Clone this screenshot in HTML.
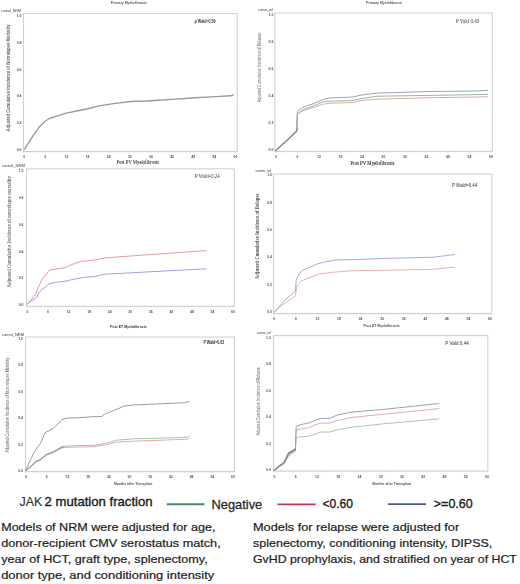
<!DOCTYPE html>
<html><head><meta charset="utf-8"><style>
html,body{margin:0;padding:0;background:#fff;}
body{width:520px;height:584px;overflow:hidden;}
svg{display:block;}
</style></head><body>
<svg width="520" height="584" viewBox="0 0 520 584">
<defs><filter id="bl" x="0" y="0" width="520" height="584" filterUnits="userSpaceOnUse"><feGaussianBlur stdDeviation="0.35"/></filter></defs>
<rect width="520" height="584" fill="#fff"/>
<g filter="url(#bl)">
<rect x="23.5" y="13.5" width="213.8" height="138.0" fill="none" stroke="#d2d2d2" stroke-width="1.1"/>
<line x1="24.2" y1="151.5" x2="24.2" y2="152.9" stroke="#b8b8b8" stroke-width="0.5"/>
<line x1="27.72" y1="151.5" x2="27.72" y2="152.6" stroke="#b8b8b8" stroke-width="0.5"/>
<line x1="31.24" y1="151.5" x2="31.24" y2="152.6" stroke="#b8b8b8" stroke-width="0.5"/>
<line x1="34.77" y1="151.5" x2="34.77" y2="152.6" stroke="#b8b8b8" stroke-width="0.5"/>
<line x1="38.29" y1="151.5" x2="38.29" y2="152.6" stroke="#b8b8b8" stroke-width="0.5"/>
<line x1="41.81" y1="151.5" x2="41.81" y2="152.6" stroke="#b8b8b8" stroke-width="0.5"/>
<line x1="45.33" y1="151.5" x2="45.33" y2="152.9" stroke="#b8b8b8" stroke-width="0.5"/>
<line x1="48.85" y1="151.5" x2="48.85" y2="152.6" stroke="#b8b8b8" stroke-width="0.5"/>
<line x1="52.37" y1="151.5" x2="52.37" y2="152.6" stroke="#b8b8b8" stroke-width="0.5"/>
<line x1="55.89" y1="151.5" x2="55.89" y2="152.6" stroke="#b8b8b8" stroke-width="0.5"/>
<line x1="59.42" y1="151.5" x2="59.42" y2="152.6" stroke="#b8b8b8" stroke-width="0.5"/>
<line x1="62.94" y1="151.5" x2="62.94" y2="152.6" stroke="#b8b8b8" stroke-width="0.5"/>
<line x1="66.46" y1="151.5" x2="66.46" y2="152.9" stroke="#b8b8b8" stroke-width="0.5"/>
<line x1="69.98" y1="151.5" x2="69.98" y2="152.6" stroke="#b8b8b8" stroke-width="0.5"/>
<line x1="73.5" y1="151.5" x2="73.5" y2="152.6" stroke="#b8b8b8" stroke-width="0.5"/>
<line x1="77.03" y1="151.5" x2="77.03" y2="152.6" stroke="#b8b8b8" stroke-width="0.5"/>
<line x1="80.55" y1="151.5" x2="80.55" y2="152.6" stroke="#b8b8b8" stroke-width="0.5"/>
<line x1="84.07" y1="151.5" x2="84.07" y2="152.6" stroke="#b8b8b8" stroke-width="0.5"/>
<line x1="87.59" y1="151.5" x2="87.59" y2="152.9" stroke="#b8b8b8" stroke-width="0.5"/>
<line x1="91.11" y1="151.5" x2="91.11" y2="152.6" stroke="#b8b8b8" stroke-width="0.5"/>
<line x1="94.63" y1="151.5" x2="94.63" y2="152.6" stroke="#b8b8b8" stroke-width="0.5"/>
<line x1="98.16" y1="151.5" x2="98.16" y2="152.6" stroke="#b8b8b8" stroke-width="0.5"/>
<line x1="101.68" y1="151.5" x2="101.68" y2="152.6" stroke="#b8b8b8" stroke-width="0.5"/>
<line x1="105.2" y1="151.5" x2="105.2" y2="152.6" stroke="#b8b8b8" stroke-width="0.5"/>
<line x1="108.72" y1="151.5" x2="108.72" y2="152.9" stroke="#b8b8b8" stroke-width="0.5"/>
<line x1="112.24" y1="151.5" x2="112.24" y2="152.6" stroke="#b8b8b8" stroke-width="0.5"/>
<line x1="115.76" y1="151.5" x2="115.76" y2="152.6" stroke="#b8b8b8" stroke-width="0.5"/>
<line x1="119.29" y1="151.5" x2="119.29" y2="152.6" stroke="#b8b8b8" stroke-width="0.5"/>
<line x1="122.81" y1="151.5" x2="122.81" y2="152.6" stroke="#b8b8b8" stroke-width="0.5"/>
<line x1="126.33" y1="151.5" x2="126.33" y2="152.6" stroke="#b8b8b8" stroke-width="0.5"/>
<line x1="129.85" y1="151.5" x2="129.85" y2="152.9" stroke="#b8b8b8" stroke-width="0.5"/>
<line x1="133.37" y1="151.5" x2="133.37" y2="152.6" stroke="#b8b8b8" stroke-width="0.5"/>
<line x1="136.89" y1="151.5" x2="136.89" y2="152.6" stroke="#b8b8b8" stroke-width="0.5"/>
<line x1="140.41" y1="151.5" x2="140.41" y2="152.6" stroke="#b8b8b8" stroke-width="0.5"/>
<line x1="143.94" y1="151.5" x2="143.94" y2="152.6" stroke="#b8b8b8" stroke-width="0.5"/>
<line x1="147.46" y1="151.5" x2="147.46" y2="152.6" stroke="#b8b8b8" stroke-width="0.5"/>
<line x1="150.98" y1="151.5" x2="150.98" y2="152.9" stroke="#b8b8b8" stroke-width="0.5"/>
<line x1="154.5" y1="151.5" x2="154.5" y2="152.6" stroke="#b8b8b8" stroke-width="0.5"/>
<line x1="158.02" y1="151.5" x2="158.02" y2="152.6" stroke="#b8b8b8" stroke-width="0.5"/>
<line x1="161.54" y1="151.5" x2="161.54" y2="152.6" stroke="#b8b8b8" stroke-width="0.5"/>
<line x1="165.07" y1="151.5" x2="165.07" y2="152.6" stroke="#b8b8b8" stroke-width="0.5"/>
<line x1="168.59" y1="151.5" x2="168.59" y2="152.6" stroke="#b8b8b8" stroke-width="0.5"/>
<line x1="172.11" y1="151.5" x2="172.11" y2="152.9" stroke="#b8b8b8" stroke-width="0.5"/>
<line x1="175.63" y1="151.5" x2="175.63" y2="152.6" stroke="#b8b8b8" stroke-width="0.5"/>
<line x1="179.15" y1="151.5" x2="179.15" y2="152.6" stroke="#b8b8b8" stroke-width="0.5"/>
<line x1="182.67" y1="151.5" x2="182.67" y2="152.6" stroke="#b8b8b8" stroke-width="0.5"/>
<line x1="186.2" y1="151.5" x2="186.2" y2="152.6" stroke="#b8b8b8" stroke-width="0.5"/>
<line x1="189.72" y1="151.5" x2="189.72" y2="152.6" stroke="#b8b8b8" stroke-width="0.5"/>
<line x1="193.24" y1="151.5" x2="193.24" y2="152.9" stroke="#b8b8b8" stroke-width="0.5"/>
<line x1="196.76" y1="151.5" x2="196.76" y2="152.6" stroke="#b8b8b8" stroke-width="0.5"/>
<line x1="200.28" y1="151.5" x2="200.28" y2="152.6" stroke="#b8b8b8" stroke-width="0.5"/>
<line x1="203.81" y1="151.5" x2="203.81" y2="152.6" stroke="#b8b8b8" stroke-width="0.5"/>
<line x1="207.33" y1="151.5" x2="207.33" y2="152.6" stroke="#b8b8b8" stroke-width="0.5"/>
<line x1="210.85" y1="151.5" x2="210.85" y2="152.6" stroke="#b8b8b8" stroke-width="0.5"/>
<line x1="214.37" y1="151.5" x2="214.37" y2="152.9" stroke="#b8b8b8" stroke-width="0.5"/>
<line x1="217.89" y1="151.5" x2="217.89" y2="152.6" stroke="#b8b8b8" stroke-width="0.5"/>
<line x1="221.41" y1="151.5" x2="221.41" y2="152.6" stroke="#b8b8b8" stroke-width="0.5"/>
<line x1="224.94" y1="151.5" x2="224.94" y2="152.6" stroke="#b8b8b8" stroke-width="0.5"/>
<line x1="228.46" y1="151.5" x2="228.46" y2="152.6" stroke="#b8b8b8" stroke-width="0.5"/>
<line x1="231.98" y1="151.5" x2="231.98" y2="152.6" stroke="#b8b8b8" stroke-width="0.5"/>
<line x1="235.5" y1="151.5" x2="235.5" y2="152.9" stroke="#b8b8b8" stroke-width="0.5"/>
<text x="23.25" y="158.2" font-size="4.0" font-family='"Liberation Sans", sans-serif' fill="#555" text-anchor="start" font-weight="bold" textLength="1.9" lengthAdjust="spacingAndGlyphs" >0</text>
<text x="44.38" y="158.2" font-size="4.0" font-family='"Liberation Sans", sans-serif' fill="#555" text-anchor="start" font-weight="bold" textLength="1.9" lengthAdjust="spacingAndGlyphs" >6</text>
<text x="64.56" y="158.2" font-size="4.0" font-family='"Liberation Sans", sans-serif' fill="#555" text-anchor="start" font-weight="bold" textLength="3.8" lengthAdjust="spacingAndGlyphs" >12</text>
<text x="85.69" y="158.2" font-size="4.0" font-family='"Liberation Sans", sans-serif' fill="#555" text-anchor="start" font-weight="bold" textLength="3.8" lengthAdjust="spacingAndGlyphs" >18</text>
<text x="106.82" y="158.2" font-size="4.0" font-family='"Liberation Sans", sans-serif' fill="#555" text-anchor="start" font-weight="bold" textLength="3.8" lengthAdjust="spacingAndGlyphs" >24</text>
<text x="127.95" y="158.2" font-size="4.0" font-family='"Liberation Sans", sans-serif' fill="#555" text-anchor="start" font-weight="bold" textLength="3.8" lengthAdjust="spacingAndGlyphs" >30</text>
<text x="149.08" y="158.2" font-size="4.0" font-family='"Liberation Sans", sans-serif' fill="#555" text-anchor="start" font-weight="bold" textLength="3.8" lengthAdjust="spacingAndGlyphs" >36</text>
<text x="170.21" y="158.2" font-size="4.0" font-family='"Liberation Sans", sans-serif' fill="#555" text-anchor="start" font-weight="bold" textLength="3.8" lengthAdjust="spacingAndGlyphs" >42</text>
<text x="191.34" y="158.2" font-size="4.0" font-family='"Liberation Sans", sans-serif' fill="#555" text-anchor="start" font-weight="bold" textLength="3.8" lengthAdjust="spacingAndGlyphs" >48</text>
<text x="212.47" y="158.2" font-size="4.0" font-family='"Liberation Sans", sans-serif' fill="#555" text-anchor="start" font-weight="bold" textLength="3.8" lengthAdjust="spacingAndGlyphs" >54</text>
<text x="233.6" y="158.2" font-size="4.0" font-family='"Liberation Sans", sans-serif' fill="#555" text-anchor="start" font-weight="bold" textLength="3.8" lengthAdjust="spacingAndGlyphs" >60</text>
<line x1="22.5" y1="149.5" x2="23.5" y2="149.5" stroke="#d0d0d0" stroke-width="0.5"/>
<line x1="22.5" y1="142.76" x2="23.5" y2="142.76" stroke="#d0d0d0" stroke-width="0.5"/>
<line x1="22.5" y1="136.03" x2="23.5" y2="136.03" stroke="#d0d0d0" stroke-width="0.5"/>
<line x1="22.5" y1="129.3" x2="23.5" y2="129.3" stroke="#d0d0d0" stroke-width="0.5"/>
<line x1="22.5" y1="122.56" x2="23.5" y2="122.56" stroke="#d0d0d0" stroke-width="0.5"/>
<line x1="22.5" y1="115.83" x2="23.5" y2="115.83" stroke="#d0d0d0" stroke-width="0.5"/>
<line x1="22.5" y1="109.09" x2="23.5" y2="109.09" stroke="#d0d0d0" stroke-width="0.5"/>
<line x1="22.5" y1="102.36" x2="23.5" y2="102.36" stroke="#d0d0d0" stroke-width="0.5"/>
<line x1="22.5" y1="95.62" x2="23.5" y2="95.62" stroke="#d0d0d0" stroke-width="0.5"/>
<line x1="22.5" y1="88.89" x2="23.5" y2="88.89" stroke="#d0d0d0" stroke-width="0.5"/>
<line x1="22.5" y1="82.15" x2="23.5" y2="82.15" stroke="#d0d0d0" stroke-width="0.5"/>
<line x1="22.5" y1="75.42" x2="23.5" y2="75.42" stroke="#d0d0d0" stroke-width="0.5"/>
<line x1="22.5" y1="68.68" x2="23.5" y2="68.68" stroke="#d0d0d0" stroke-width="0.5"/>
<line x1="22.5" y1="61.95" x2="23.5" y2="61.95" stroke="#d0d0d0" stroke-width="0.5"/>
<line x1="22.5" y1="55.21" x2="23.5" y2="55.21" stroke="#d0d0d0" stroke-width="0.5"/>
<line x1="22.5" y1="48.48" x2="23.5" y2="48.48" stroke="#d0d0d0" stroke-width="0.5"/>
<line x1="22.5" y1="41.74" x2="23.5" y2="41.74" stroke="#d0d0d0" stroke-width="0.5"/>
<line x1="22.5" y1="35.01" x2="23.5" y2="35.01" stroke="#d0d0d0" stroke-width="0.5"/>
<line x1="22.5" y1="28.27" x2="23.5" y2="28.27" stroke="#d0d0d0" stroke-width="0.5"/>
<line x1="22.5" y1="21.54" x2="23.5" y2="21.54" stroke="#d0d0d0" stroke-width="0.5"/>
<line x1="22.5" y1="14.8" x2="23.5" y2="14.8" stroke="#d0d0d0" stroke-width="0.5"/>
<text x="16.7" y="151.3" font-size="4.2" font-family='"Liberation Sans", sans-serif' fill="#555" text-anchor="start" font-weight="bold" textLength="4.8" lengthAdjust="spacingAndGlyphs" >0.0</text>
<text x="16.7" y="124.4" font-size="4.2" font-family='"Liberation Sans", sans-serif' fill="#555" text-anchor="start" font-weight="bold" textLength="4.8" lengthAdjust="spacingAndGlyphs" >0.2</text>
<text x="16.7" y="97.4" font-size="4.2" font-family='"Liberation Sans", sans-serif' fill="#555" text-anchor="start" font-weight="bold" textLength="4.8" lengthAdjust="spacingAndGlyphs" >0.4</text>
<text x="16.7" y="70.5" font-size="4.2" font-family='"Liberation Sans", sans-serif' fill="#555" text-anchor="start" font-weight="bold" textLength="4.8" lengthAdjust="spacingAndGlyphs" >0.6</text>
<text x="16.7" y="43.5" font-size="4.2" font-family='"Liberation Sans", sans-serif' fill="#555" text-anchor="start" font-weight="bold" textLength="4.8" lengthAdjust="spacingAndGlyphs" >0.8</text>
<text x="16.7" y="16.6" font-size="4.2" font-family='"Liberation Sans", sans-serif' fill="#555" text-anchor="start" font-weight="bold" textLength="4.8" lengthAdjust="spacingAndGlyphs" >1.0</text>
<text x="1" y="11.8" font-size="4.0" font-family='"Liberation Sans", sans-serif' fill="#333" text-anchor="start" font-weight="normal" textLength="20" lengthAdjust="spacingAndGlyphs" >cumul_NRM</text>
<text x="0" y="0" transform="translate(9.5,77.95) rotate(-90)" font-size="5.2" font-family='"Liberation Sans", sans-serif' fill="#666" font-weight="bold" text-anchor="middle" textLength="106.9" lengthAdjust="spacingAndGlyphs">Adjusted Cumulative Incidence of Nonrelapse Mortality</text>
<text x="194.6" y="22.5" font-size="5.2" font-family='"Liberation Sans", sans-serif' fill="#333" text-anchor="start" font-weight="bold" textLength="21.0" lengthAdjust="spacingAndGlyphs" >p Wald=0.59</text>
<polyline points="24.6,149.2 29.0,142.0 33.8,134.6 40.0,126.2 44.5,121.8 49.2,118.5 56.9,116.2 66.2,113.1 75.4,111.2 87.7,108.8 100.0,105.6 115.4,103.4 130.8,101.5 146.2,101.0 158.5,100.3 172.3,99.4 194.6,97.7 216.2,96.6 230.0,95.8 232.5,95.6 233.0,94.6" fill="none" stroke="#9a9a9a" stroke-width="1.4" stroke-opacity="1.0" stroke-linejoin="round" stroke-linecap="round"/>
<rect x="274.9" y="13.0" width="217.40000000000003" height="138.4" fill="none" stroke="#d2d2d2" stroke-width="1.1"/>
<line x1="276.0" y1="151.4" x2="276.0" y2="152.8" stroke="#b8b8b8" stroke-width="0.5"/>
<line x1="279.58" y1="151.4" x2="279.58" y2="152.5" stroke="#b8b8b8" stroke-width="0.5"/>
<line x1="283.17" y1="151.4" x2="283.17" y2="152.5" stroke="#b8b8b8" stroke-width="0.5"/>
<line x1="286.75" y1="151.4" x2="286.75" y2="152.5" stroke="#b8b8b8" stroke-width="0.5"/>
<line x1="290.33" y1="151.4" x2="290.33" y2="152.5" stroke="#b8b8b8" stroke-width="0.5"/>
<line x1="293.92" y1="151.4" x2="293.92" y2="152.5" stroke="#b8b8b8" stroke-width="0.5"/>
<line x1="297.5" y1="151.4" x2="297.5" y2="152.8" stroke="#b8b8b8" stroke-width="0.5"/>
<line x1="301.08" y1="151.4" x2="301.08" y2="152.5" stroke="#b8b8b8" stroke-width="0.5"/>
<line x1="304.67" y1="151.4" x2="304.67" y2="152.5" stroke="#b8b8b8" stroke-width="0.5"/>
<line x1="308.25" y1="151.4" x2="308.25" y2="152.5" stroke="#b8b8b8" stroke-width="0.5"/>
<line x1="311.83" y1="151.4" x2="311.83" y2="152.5" stroke="#b8b8b8" stroke-width="0.5"/>
<line x1="315.42" y1="151.4" x2="315.42" y2="152.5" stroke="#b8b8b8" stroke-width="0.5"/>
<line x1="319.0" y1="151.4" x2="319.0" y2="152.8" stroke="#b8b8b8" stroke-width="0.5"/>
<line x1="322.58" y1="151.4" x2="322.58" y2="152.5" stroke="#b8b8b8" stroke-width="0.5"/>
<line x1="326.17" y1="151.4" x2="326.17" y2="152.5" stroke="#b8b8b8" stroke-width="0.5"/>
<line x1="329.75" y1="151.4" x2="329.75" y2="152.5" stroke="#b8b8b8" stroke-width="0.5"/>
<line x1="333.33" y1="151.4" x2="333.33" y2="152.5" stroke="#b8b8b8" stroke-width="0.5"/>
<line x1="336.92" y1="151.4" x2="336.92" y2="152.5" stroke="#b8b8b8" stroke-width="0.5"/>
<line x1="340.5" y1="151.4" x2="340.5" y2="152.8" stroke="#b8b8b8" stroke-width="0.5"/>
<line x1="344.08" y1="151.4" x2="344.08" y2="152.5" stroke="#b8b8b8" stroke-width="0.5"/>
<line x1="347.67" y1="151.4" x2="347.67" y2="152.5" stroke="#b8b8b8" stroke-width="0.5"/>
<line x1="351.25" y1="151.4" x2="351.25" y2="152.5" stroke="#b8b8b8" stroke-width="0.5"/>
<line x1="354.83" y1="151.4" x2="354.83" y2="152.5" stroke="#b8b8b8" stroke-width="0.5"/>
<line x1="358.42" y1="151.4" x2="358.42" y2="152.5" stroke="#b8b8b8" stroke-width="0.5"/>
<line x1="362.0" y1="151.4" x2="362.0" y2="152.8" stroke="#b8b8b8" stroke-width="0.5"/>
<line x1="365.58" y1="151.4" x2="365.58" y2="152.5" stroke="#b8b8b8" stroke-width="0.5"/>
<line x1="369.17" y1="151.4" x2="369.17" y2="152.5" stroke="#b8b8b8" stroke-width="0.5"/>
<line x1="372.75" y1="151.4" x2="372.75" y2="152.5" stroke="#b8b8b8" stroke-width="0.5"/>
<line x1="376.33" y1="151.4" x2="376.33" y2="152.5" stroke="#b8b8b8" stroke-width="0.5"/>
<line x1="379.92" y1="151.4" x2="379.92" y2="152.5" stroke="#b8b8b8" stroke-width="0.5"/>
<line x1="383.5" y1="151.4" x2="383.5" y2="152.8" stroke="#b8b8b8" stroke-width="0.5"/>
<line x1="387.08" y1="151.4" x2="387.08" y2="152.5" stroke="#b8b8b8" stroke-width="0.5"/>
<line x1="390.67" y1="151.4" x2="390.67" y2="152.5" stroke="#b8b8b8" stroke-width="0.5"/>
<line x1="394.25" y1="151.4" x2="394.25" y2="152.5" stroke="#b8b8b8" stroke-width="0.5"/>
<line x1="397.83" y1="151.4" x2="397.83" y2="152.5" stroke="#b8b8b8" stroke-width="0.5"/>
<line x1="401.42" y1="151.4" x2="401.42" y2="152.5" stroke="#b8b8b8" stroke-width="0.5"/>
<line x1="405.0" y1="151.4" x2="405.0" y2="152.8" stroke="#b8b8b8" stroke-width="0.5"/>
<line x1="408.58" y1="151.4" x2="408.58" y2="152.5" stroke="#b8b8b8" stroke-width="0.5"/>
<line x1="412.17" y1="151.4" x2="412.17" y2="152.5" stroke="#b8b8b8" stroke-width="0.5"/>
<line x1="415.75" y1="151.4" x2="415.75" y2="152.5" stroke="#b8b8b8" stroke-width="0.5"/>
<line x1="419.33" y1="151.4" x2="419.33" y2="152.5" stroke="#b8b8b8" stroke-width="0.5"/>
<line x1="422.92" y1="151.4" x2="422.92" y2="152.5" stroke="#b8b8b8" stroke-width="0.5"/>
<line x1="426.5" y1="151.4" x2="426.5" y2="152.8" stroke="#b8b8b8" stroke-width="0.5"/>
<line x1="430.08" y1="151.4" x2="430.08" y2="152.5" stroke="#b8b8b8" stroke-width="0.5"/>
<line x1="433.67" y1="151.4" x2="433.67" y2="152.5" stroke="#b8b8b8" stroke-width="0.5"/>
<line x1="437.25" y1="151.4" x2="437.25" y2="152.5" stroke="#b8b8b8" stroke-width="0.5"/>
<line x1="440.83" y1="151.4" x2="440.83" y2="152.5" stroke="#b8b8b8" stroke-width="0.5"/>
<line x1="444.42" y1="151.4" x2="444.42" y2="152.5" stroke="#b8b8b8" stroke-width="0.5"/>
<line x1="448.0" y1="151.4" x2="448.0" y2="152.8" stroke="#b8b8b8" stroke-width="0.5"/>
<line x1="451.58" y1="151.4" x2="451.58" y2="152.5" stroke="#b8b8b8" stroke-width="0.5"/>
<line x1="455.17" y1="151.4" x2="455.17" y2="152.5" stroke="#b8b8b8" stroke-width="0.5"/>
<line x1="458.75" y1="151.4" x2="458.75" y2="152.5" stroke="#b8b8b8" stroke-width="0.5"/>
<line x1="462.33" y1="151.4" x2="462.33" y2="152.5" stroke="#b8b8b8" stroke-width="0.5"/>
<line x1="465.92" y1="151.4" x2="465.92" y2="152.5" stroke="#b8b8b8" stroke-width="0.5"/>
<line x1="469.5" y1="151.4" x2="469.5" y2="152.8" stroke="#b8b8b8" stroke-width="0.5"/>
<line x1="473.08" y1="151.4" x2="473.08" y2="152.5" stroke="#b8b8b8" stroke-width="0.5"/>
<line x1="476.67" y1="151.4" x2="476.67" y2="152.5" stroke="#b8b8b8" stroke-width="0.5"/>
<line x1="480.25" y1="151.4" x2="480.25" y2="152.5" stroke="#b8b8b8" stroke-width="0.5"/>
<line x1="483.83" y1="151.4" x2="483.83" y2="152.5" stroke="#b8b8b8" stroke-width="0.5"/>
<line x1="487.42" y1="151.4" x2="487.42" y2="152.5" stroke="#b8b8b8" stroke-width="0.5"/>
<line x1="491.0" y1="151.4" x2="491.0" y2="152.8" stroke="#b8b8b8" stroke-width="0.5"/>
<text x="275.05" y="157.8" font-size="4.0" font-family='"Liberation Sans", sans-serif' fill="#555" text-anchor="start" font-weight="bold" textLength="1.9" lengthAdjust="spacingAndGlyphs" >0</text>
<text x="296.55" y="157.8" font-size="4.0" font-family='"Liberation Sans", sans-serif' fill="#555" text-anchor="start" font-weight="bold" textLength="1.9" lengthAdjust="spacingAndGlyphs" >6</text>
<text x="317.1" y="157.8" font-size="4.0" font-family='"Liberation Sans", sans-serif' fill="#555" text-anchor="start" font-weight="bold" textLength="3.8" lengthAdjust="spacingAndGlyphs" >12</text>
<text x="338.6" y="157.8" font-size="4.0" font-family='"Liberation Sans", sans-serif' fill="#555" text-anchor="start" font-weight="bold" textLength="3.8" lengthAdjust="spacingAndGlyphs" >18</text>
<text x="360.1" y="157.8" font-size="4.0" font-family='"Liberation Sans", sans-serif' fill="#555" text-anchor="start" font-weight="bold" textLength="3.8" lengthAdjust="spacingAndGlyphs" >24</text>
<text x="381.6" y="157.8" font-size="4.0" font-family='"Liberation Sans", sans-serif' fill="#555" text-anchor="start" font-weight="bold" textLength="3.8" lengthAdjust="spacingAndGlyphs" >30</text>
<text x="403.1" y="157.8" font-size="4.0" font-family='"Liberation Sans", sans-serif' fill="#555" text-anchor="start" font-weight="bold" textLength="3.8" lengthAdjust="spacingAndGlyphs" >36</text>
<text x="424.6" y="157.8" font-size="4.0" font-family='"Liberation Sans", sans-serif' fill="#555" text-anchor="start" font-weight="bold" textLength="3.8" lengthAdjust="spacingAndGlyphs" >42</text>
<text x="446.1" y="157.8" font-size="4.0" font-family='"Liberation Sans", sans-serif' fill="#555" text-anchor="start" font-weight="bold" textLength="3.8" lengthAdjust="spacingAndGlyphs" >48</text>
<text x="467.6" y="157.8" font-size="4.0" font-family='"Liberation Sans", sans-serif' fill="#555" text-anchor="start" font-weight="bold" textLength="3.8" lengthAdjust="spacingAndGlyphs" >54</text>
<text x="489.1" y="157.8" font-size="4.0" font-family='"Liberation Sans", sans-serif' fill="#555" text-anchor="start" font-weight="bold" textLength="3.8" lengthAdjust="spacingAndGlyphs" >60</text>
<line x1="273.9" y1="149.5" x2="274.9" y2="149.5" stroke="#d0d0d0" stroke-width="0.5"/>
<line x1="273.9" y1="142.75" x2="274.9" y2="142.75" stroke="#d0d0d0" stroke-width="0.5"/>
<line x1="273.9" y1="136.0" x2="274.9" y2="136.0" stroke="#d0d0d0" stroke-width="0.5"/>
<line x1="273.9" y1="129.25" x2="274.9" y2="129.25" stroke="#d0d0d0" stroke-width="0.5"/>
<line x1="273.9" y1="122.5" x2="274.9" y2="122.5" stroke="#d0d0d0" stroke-width="0.5"/>
<line x1="273.9" y1="115.75" x2="274.9" y2="115.75" stroke="#d0d0d0" stroke-width="0.5"/>
<line x1="273.9" y1="109.0" x2="274.9" y2="109.0" stroke="#d0d0d0" stroke-width="0.5"/>
<line x1="273.9" y1="102.25" x2="274.9" y2="102.25" stroke="#d0d0d0" stroke-width="0.5"/>
<line x1="273.9" y1="95.5" x2="274.9" y2="95.5" stroke="#d0d0d0" stroke-width="0.5"/>
<line x1="273.9" y1="88.75" x2="274.9" y2="88.75" stroke="#d0d0d0" stroke-width="0.5"/>
<line x1="273.9" y1="82.0" x2="274.9" y2="82.0" stroke="#d0d0d0" stroke-width="0.5"/>
<line x1="273.9" y1="75.25" x2="274.9" y2="75.25" stroke="#d0d0d0" stroke-width="0.5"/>
<line x1="273.9" y1="68.5" x2="274.9" y2="68.5" stroke="#d0d0d0" stroke-width="0.5"/>
<line x1="273.9" y1="61.75" x2="274.9" y2="61.75" stroke="#d0d0d0" stroke-width="0.5"/>
<line x1="273.9" y1="55.0" x2="274.9" y2="55.0" stroke="#d0d0d0" stroke-width="0.5"/>
<line x1="273.9" y1="48.25" x2="274.9" y2="48.25" stroke="#d0d0d0" stroke-width="0.5"/>
<line x1="273.9" y1="41.5" x2="274.9" y2="41.5" stroke="#d0d0d0" stroke-width="0.5"/>
<line x1="273.9" y1="34.75" x2="274.9" y2="34.75" stroke="#d0d0d0" stroke-width="0.5"/>
<line x1="273.9" y1="28.0" x2="274.9" y2="28.0" stroke="#d0d0d0" stroke-width="0.5"/>
<line x1="273.9" y1="21.25" x2="274.9" y2="21.25" stroke="#d0d0d0" stroke-width="0.5"/>
<line x1="273.9" y1="14.5" x2="274.9" y2="14.5" stroke="#d0d0d0" stroke-width="0.5"/>
<text x="268.5" y="151.3" font-size="4.2" font-family='"Liberation Sans", sans-serif' fill="#555" text-anchor="start" font-weight="bold" textLength="4.8" lengthAdjust="spacingAndGlyphs" >0.0</text>
<text x="268.5" y="124.3" font-size="4.2" font-family='"Liberation Sans", sans-serif' fill="#555" text-anchor="start" font-weight="bold" textLength="4.8" lengthAdjust="spacingAndGlyphs" >0.2</text>
<text x="268.5" y="97.3" font-size="4.2" font-family='"Liberation Sans", sans-serif' fill="#555" text-anchor="start" font-weight="bold" textLength="4.8" lengthAdjust="spacingAndGlyphs" >0.4</text>
<text x="268.5" y="70.3" font-size="4.2" font-family='"Liberation Sans", sans-serif' fill="#555" text-anchor="start" font-weight="bold" textLength="4.8" lengthAdjust="spacingAndGlyphs" >0.6</text>
<text x="268.5" y="43.3" font-size="4.2" font-family='"Liberation Sans", sans-serif' fill="#555" text-anchor="start" font-weight="bold" textLength="4.8" lengthAdjust="spacingAndGlyphs" >0.8</text>
<text x="268.5" y="16.3" font-size="4.2" font-family='"Liberation Sans", sans-serif' fill="#555" text-anchor="start" font-weight="bold" textLength="4.8" lengthAdjust="spacingAndGlyphs" >1.0</text>
<text x="258" y="11.0" font-size="4.0" font-family='"Liberation Sans", sans-serif' fill="#333" text-anchor="start" font-weight="normal" textLength="15" lengthAdjust="spacingAndGlyphs" >cumm_rel</text>
<text x="0" y="0" transform="translate(260.5,67.55) rotate(-90)" font-size="5.2" font-family='"Liberation Sans", sans-serif' fill="#666" font-weight="normal" text-anchor="middle" textLength="69.5" lengthAdjust="spacingAndGlyphs">Adjusted Cumulative Incidence of Relapse</text>
<text x="455.9" y="23.4" font-size="5.2" font-family='"Liberation Serif", serif' fill="#333" text-anchor="start" font-weight="normal" textLength="23.5" lengthAdjust="spacingAndGlyphs" >P Vald 0.43</text>
<polyline points="275.8,150.4 286.0,141.0 296.6,131.2 297.4,114.2 302.8,109.6 312.0,106.5 322.8,101.9 330.5,101.2 352.0,100.6 363.8,98.2 377.7,96.2 430.0,95.4 480.0,94.6 487.6,94.3" fill="none" stroke="#98b898" stroke-width="1.0" stroke-opacity="1.0" stroke-linejoin="round" stroke-linecap="round"/>
<polyline points="275.8,150.4 286.0,141.5 296.6,131.6 297.4,114.4 302.8,110.8 312.0,108.0 322.8,104.2 330.5,103.2 352.0,102.6 363.8,100.2 377.7,99.2 430.0,97.7 480.0,97.0 487.6,96.8" fill="none" stroke="#dca8a4" stroke-width="1.0" stroke-opacity="1.0" stroke-linejoin="round" stroke-linecap="round"/>
<polyline points="275.8,150.4 286.0,141.0 296.6,130.8 297.4,111.2 302.8,107.3 312.0,104.2 322.8,99.6 330.5,97.8 352.0,97.1 363.8,94.6 377.7,93.1 430.0,91.5 480.0,90.9 487.6,90.2" fill="none" stroke="#98a0c4" stroke-width="1.0" stroke-opacity="1.0" stroke-linejoin="round" stroke-linecap="round"/>
<polyline points="275.8,150.4 286.0,141.2 296.6,131.2 297.2,128.0" fill="none" stroke="#8a8a8a" stroke-width="1.3" stroke-opacity="1.0" stroke-linejoin="round" stroke-linecap="round"/>
<rect x="26.5" y="168.8" width="207.8" height="137.5" fill="none" stroke="#d2d2d2" stroke-width="1.1"/>
<line x1="27.5" y1="306.3" x2="27.5" y2="307.7" stroke="#b8b8b8" stroke-width="0.5"/>
<line x1="30.93" y1="306.3" x2="30.93" y2="307.40000000000003" stroke="#b8b8b8" stroke-width="0.5"/>
<line x1="34.35" y1="306.3" x2="34.35" y2="307.40000000000003" stroke="#b8b8b8" stroke-width="0.5"/>
<line x1="37.77" y1="306.3" x2="37.77" y2="307.40000000000003" stroke="#b8b8b8" stroke-width="0.5"/>
<line x1="41.2" y1="306.3" x2="41.2" y2="307.40000000000003" stroke="#b8b8b8" stroke-width="0.5"/>
<line x1="44.62" y1="306.3" x2="44.62" y2="307.40000000000003" stroke="#b8b8b8" stroke-width="0.5"/>
<line x1="48.05" y1="306.3" x2="48.05" y2="307.7" stroke="#b8b8b8" stroke-width="0.5"/>
<line x1="51.48" y1="306.3" x2="51.48" y2="307.40000000000003" stroke="#b8b8b8" stroke-width="0.5"/>
<line x1="54.9" y1="306.3" x2="54.9" y2="307.40000000000003" stroke="#b8b8b8" stroke-width="0.5"/>
<line x1="58.33" y1="306.3" x2="58.33" y2="307.40000000000003" stroke="#b8b8b8" stroke-width="0.5"/>
<line x1="61.75" y1="306.3" x2="61.75" y2="307.40000000000003" stroke="#b8b8b8" stroke-width="0.5"/>
<line x1="65.17" y1="306.3" x2="65.17" y2="307.40000000000003" stroke="#b8b8b8" stroke-width="0.5"/>
<line x1="68.6" y1="306.3" x2="68.6" y2="307.7" stroke="#b8b8b8" stroke-width="0.5"/>
<line x1="72.03" y1="306.3" x2="72.03" y2="307.40000000000003" stroke="#b8b8b8" stroke-width="0.5"/>
<line x1="75.45" y1="306.3" x2="75.45" y2="307.40000000000003" stroke="#b8b8b8" stroke-width="0.5"/>
<line x1="78.88" y1="306.3" x2="78.88" y2="307.40000000000003" stroke="#b8b8b8" stroke-width="0.5"/>
<line x1="82.3" y1="306.3" x2="82.3" y2="307.40000000000003" stroke="#b8b8b8" stroke-width="0.5"/>
<line x1="85.72" y1="306.3" x2="85.72" y2="307.40000000000003" stroke="#b8b8b8" stroke-width="0.5"/>
<line x1="89.15" y1="306.3" x2="89.15" y2="307.7" stroke="#b8b8b8" stroke-width="0.5"/>
<line x1="92.58" y1="306.3" x2="92.58" y2="307.40000000000003" stroke="#b8b8b8" stroke-width="0.5"/>
<line x1="96.0" y1="306.3" x2="96.0" y2="307.40000000000003" stroke="#b8b8b8" stroke-width="0.5"/>
<line x1="99.42" y1="306.3" x2="99.42" y2="307.40000000000003" stroke="#b8b8b8" stroke-width="0.5"/>
<line x1="102.85" y1="306.3" x2="102.85" y2="307.40000000000003" stroke="#b8b8b8" stroke-width="0.5"/>
<line x1="106.28" y1="306.3" x2="106.28" y2="307.40000000000003" stroke="#b8b8b8" stroke-width="0.5"/>
<line x1="109.7" y1="306.3" x2="109.7" y2="307.7" stroke="#b8b8b8" stroke-width="0.5"/>
<line x1="113.12" y1="306.3" x2="113.12" y2="307.40000000000003" stroke="#b8b8b8" stroke-width="0.5"/>
<line x1="116.55" y1="306.3" x2="116.55" y2="307.40000000000003" stroke="#b8b8b8" stroke-width="0.5"/>
<line x1="119.97" y1="306.3" x2="119.97" y2="307.40000000000003" stroke="#b8b8b8" stroke-width="0.5"/>
<line x1="123.4" y1="306.3" x2="123.4" y2="307.40000000000003" stroke="#b8b8b8" stroke-width="0.5"/>
<line x1="126.83" y1="306.3" x2="126.83" y2="307.40000000000003" stroke="#b8b8b8" stroke-width="0.5"/>
<line x1="130.25" y1="306.3" x2="130.25" y2="307.7" stroke="#b8b8b8" stroke-width="0.5"/>
<line x1="133.68" y1="306.3" x2="133.68" y2="307.40000000000003" stroke="#b8b8b8" stroke-width="0.5"/>
<line x1="137.1" y1="306.3" x2="137.1" y2="307.40000000000003" stroke="#b8b8b8" stroke-width="0.5"/>
<line x1="140.53" y1="306.3" x2="140.53" y2="307.40000000000003" stroke="#b8b8b8" stroke-width="0.5"/>
<line x1="143.95" y1="306.3" x2="143.95" y2="307.40000000000003" stroke="#b8b8b8" stroke-width="0.5"/>
<line x1="147.38" y1="306.3" x2="147.38" y2="307.40000000000003" stroke="#b8b8b8" stroke-width="0.5"/>
<line x1="150.8" y1="306.3" x2="150.8" y2="307.7" stroke="#b8b8b8" stroke-width="0.5"/>
<line x1="154.22" y1="306.3" x2="154.22" y2="307.40000000000003" stroke="#b8b8b8" stroke-width="0.5"/>
<line x1="157.65" y1="306.3" x2="157.65" y2="307.40000000000003" stroke="#b8b8b8" stroke-width="0.5"/>
<line x1="161.07" y1="306.3" x2="161.07" y2="307.40000000000003" stroke="#b8b8b8" stroke-width="0.5"/>
<line x1="164.5" y1="306.3" x2="164.5" y2="307.40000000000003" stroke="#b8b8b8" stroke-width="0.5"/>
<line x1="167.93" y1="306.3" x2="167.93" y2="307.40000000000003" stroke="#b8b8b8" stroke-width="0.5"/>
<line x1="171.35" y1="306.3" x2="171.35" y2="307.7" stroke="#b8b8b8" stroke-width="0.5"/>
<line x1="174.78" y1="306.3" x2="174.78" y2="307.40000000000003" stroke="#b8b8b8" stroke-width="0.5"/>
<line x1="178.2" y1="306.3" x2="178.2" y2="307.40000000000003" stroke="#b8b8b8" stroke-width="0.5"/>
<line x1="181.62" y1="306.3" x2="181.62" y2="307.40000000000003" stroke="#b8b8b8" stroke-width="0.5"/>
<line x1="185.05" y1="306.3" x2="185.05" y2="307.40000000000003" stroke="#b8b8b8" stroke-width="0.5"/>
<line x1="188.47" y1="306.3" x2="188.47" y2="307.40000000000003" stroke="#b8b8b8" stroke-width="0.5"/>
<line x1="191.9" y1="306.3" x2="191.9" y2="307.7" stroke="#b8b8b8" stroke-width="0.5"/>
<line x1="195.32" y1="306.3" x2="195.32" y2="307.40000000000003" stroke="#b8b8b8" stroke-width="0.5"/>
<line x1="198.75" y1="306.3" x2="198.75" y2="307.40000000000003" stroke="#b8b8b8" stroke-width="0.5"/>
<line x1="202.18" y1="306.3" x2="202.18" y2="307.40000000000003" stroke="#b8b8b8" stroke-width="0.5"/>
<line x1="205.6" y1="306.3" x2="205.6" y2="307.40000000000003" stroke="#b8b8b8" stroke-width="0.5"/>
<line x1="209.03" y1="306.3" x2="209.03" y2="307.40000000000003" stroke="#b8b8b8" stroke-width="0.5"/>
<line x1="212.45" y1="306.3" x2="212.45" y2="307.7" stroke="#b8b8b8" stroke-width="0.5"/>
<line x1="215.88" y1="306.3" x2="215.88" y2="307.40000000000003" stroke="#b8b8b8" stroke-width="0.5"/>
<line x1="219.3" y1="306.3" x2="219.3" y2="307.40000000000003" stroke="#b8b8b8" stroke-width="0.5"/>
<line x1="222.72" y1="306.3" x2="222.72" y2="307.40000000000003" stroke="#b8b8b8" stroke-width="0.5"/>
<line x1="226.15" y1="306.3" x2="226.15" y2="307.40000000000003" stroke="#b8b8b8" stroke-width="0.5"/>
<line x1="229.57" y1="306.3" x2="229.57" y2="307.40000000000003" stroke="#b8b8b8" stroke-width="0.5"/>
<line x1="233.0" y1="306.3" x2="233.0" y2="307.7" stroke="#b8b8b8" stroke-width="0.5"/>
<text x="26.55" y="313.2" font-size="4.0" font-family='"Liberation Sans", sans-serif' fill="#555" text-anchor="start" font-weight="bold" textLength="1.9" lengthAdjust="spacingAndGlyphs" >0</text>
<text x="47.1" y="313.2" font-size="4.0" font-family='"Liberation Sans", sans-serif' fill="#555" text-anchor="start" font-weight="bold" textLength="1.9" lengthAdjust="spacingAndGlyphs" >6</text>
<text x="66.7" y="313.2" font-size="4.0" font-family='"Liberation Sans", sans-serif' fill="#555" text-anchor="start" font-weight="bold" textLength="3.8" lengthAdjust="spacingAndGlyphs" >12</text>
<text x="87.25" y="313.2" font-size="4.0" font-family='"Liberation Sans", sans-serif' fill="#555" text-anchor="start" font-weight="bold" textLength="3.8" lengthAdjust="spacingAndGlyphs" >18</text>
<text x="107.8" y="313.2" font-size="4.0" font-family='"Liberation Sans", sans-serif' fill="#555" text-anchor="start" font-weight="bold" textLength="3.8" lengthAdjust="spacingAndGlyphs" >24</text>
<text x="128.35" y="313.2" font-size="4.0" font-family='"Liberation Sans", sans-serif' fill="#555" text-anchor="start" font-weight="bold" textLength="3.8" lengthAdjust="spacingAndGlyphs" >30</text>
<text x="148.9" y="313.2" font-size="4.0" font-family='"Liberation Sans", sans-serif' fill="#555" text-anchor="start" font-weight="bold" textLength="3.8" lengthAdjust="spacingAndGlyphs" >36</text>
<text x="169.45" y="313.2" font-size="4.0" font-family='"Liberation Sans", sans-serif' fill="#555" text-anchor="start" font-weight="bold" textLength="3.8" lengthAdjust="spacingAndGlyphs" >42</text>
<text x="190.0" y="313.2" font-size="4.0" font-family='"Liberation Sans", sans-serif' fill="#555" text-anchor="start" font-weight="bold" textLength="3.8" lengthAdjust="spacingAndGlyphs" >48</text>
<text x="210.55" y="313.2" font-size="4.0" font-family='"Liberation Sans", sans-serif' fill="#555" text-anchor="start" font-weight="bold" textLength="3.8" lengthAdjust="spacingAndGlyphs" >54</text>
<text x="231.1" y="313.2" font-size="4.0" font-family='"Liberation Sans", sans-serif' fill="#555" text-anchor="start" font-weight="bold" textLength="3.8" lengthAdjust="spacingAndGlyphs" >60</text>
<line x1="25.5" y1="304.5" x2="26.5" y2="304.5" stroke="#d0d0d0" stroke-width="0.5"/>
<line x1="25.5" y1="297.77" x2="26.5" y2="297.77" stroke="#d0d0d0" stroke-width="0.5"/>
<line x1="25.5" y1="291.05" x2="26.5" y2="291.05" stroke="#d0d0d0" stroke-width="0.5"/>
<line x1="25.5" y1="284.32" x2="26.5" y2="284.32" stroke="#d0d0d0" stroke-width="0.5"/>
<line x1="25.5" y1="277.6" x2="26.5" y2="277.6" stroke="#d0d0d0" stroke-width="0.5"/>
<line x1="25.5" y1="270.88" x2="26.5" y2="270.88" stroke="#d0d0d0" stroke-width="0.5"/>
<line x1="25.5" y1="264.15" x2="26.5" y2="264.15" stroke="#d0d0d0" stroke-width="0.5"/>
<line x1="25.5" y1="257.43" x2="26.5" y2="257.43" stroke="#d0d0d0" stroke-width="0.5"/>
<line x1="25.5" y1="250.7" x2="26.5" y2="250.7" stroke="#d0d0d0" stroke-width="0.5"/>
<line x1="25.5" y1="243.97" x2="26.5" y2="243.97" stroke="#d0d0d0" stroke-width="0.5"/>
<line x1="25.5" y1="237.25" x2="26.5" y2="237.25" stroke="#d0d0d0" stroke-width="0.5"/>
<line x1="25.5" y1="230.52" x2="26.5" y2="230.52" stroke="#d0d0d0" stroke-width="0.5"/>
<line x1="25.5" y1="223.8" x2="26.5" y2="223.8" stroke="#d0d0d0" stroke-width="0.5"/>
<line x1="25.5" y1="217.07" x2="26.5" y2="217.07" stroke="#d0d0d0" stroke-width="0.5"/>
<line x1="25.5" y1="210.35" x2="26.5" y2="210.35" stroke="#d0d0d0" stroke-width="0.5"/>
<line x1="25.5" y1="203.62" x2="26.5" y2="203.62" stroke="#d0d0d0" stroke-width="0.5"/>
<line x1="25.5" y1="196.9" x2="26.5" y2="196.9" stroke="#d0d0d0" stroke-width="0.5"/>
<line x1="25.5" y1="190.18" x2="26.5" y2="190.18" stroke="#d0d0d0" stroke-width="0.5"/>
<line x1="25.5" y1="183.45" x2="26.5" y2="183.45" stroke="#d0d0d0" stroke-width="0.5"/>
<line x1="25.5" y1="176.73" x2="26.5" y2="176.73" stroke="#d0d0d0" stroke-width="0.5"/>
<line x1="25.5" y1="170.0" x2="26.5" y2="170.0" stroke="#d0d0d0" stroke-width="0.5"/>
<text x="18.7" y="306.3" font-size="4.2" font-family='"Liberation Sans", sans-serif' fill="#555" text-anchor="start" font-weight="bold" textLength="4.8" lengthAdjust="spacingAndGlyphs" >0.0</text>
<text x="18.7" y="279.4" font-size="4.2" font-family='"Liberation Sans", sans-serif' fill="#555" text-anchor="start" font-weight="bold" textLength="4.8" lengthAdjust="spacingAndGlyphs" >0.2</text>
<text x="18.7" y="252.5" font-size="4.2" font-family='"Liberation Sans", sans-serif' fill="#555" text-anchor="start" font-weight="bold" textLength="4.8" lengthAdjust="spacingAndGlyphs" >0.4</text>
<text x="18.7" y="225.6" font-size="4.2" font-family='"Liberation Sans", sans-serif' fill="#555" text-anchor="start" font-weight="bold" textLength="4.8" lengthAdjust="spacingAndGlyphs" >0.6</text>
<text x="18.7" y="198.7" font-size="4.2" font-family='"Liberation Sans", sans-serif' fill="#555" text-anchor="start" font-weight="bold" textLength="4.8" lengthAdjust="spacingAndGlyphs" >0.8</text>
<text x="18.7" y="171.8" font-size="4.2" font-family='"Liberation Sans", sans-serif' fill="#555" text-anchor="start" font-weight="bold" textLength="4.8" lengthAdjust="spacingAndGlyphs" >1.0</text>
<text x="2" y="166.8" font-size="4.0" font-family='"Liberation Sans", sans-serif' fill="#333" text-anchor="start" font-weight="normal" textLength="23" lengthAdjust="spacingAndGlyphs" >cumul_NRM</text>
<text x="0" y="0" transform="translate(11.0,231.75) rotate(-90)" font-size="5.2" font-family='"Liberation Serif", serif' fill="#777" font-weight="bold" text-anchor="middle" textLength="111.5" lengthAdjust="spacingAndGlyphs">Adjusted Cumulative Incidence of nonrelapse mortality</text>
<text x="195.1" y="178.4" font-size="5.2" font-family='"Liberation Serif", serif' fill="#333" text-anchor="start" font-weight="normal" textLength="24.5" lengthAdjust="spacingAndGlyphs" >P Wald=0.24</text>
<polyline points="27.3,304.3 31.2,300.8 34.0,299.5 36.5,297.7 39.0,293.0 41.9,289.2 45.8,286.9 48.8,283.8 55.8,282.3 65.0,281.2 74.2,279.2 83.5,277.4 94.2,276.6 105.0,274.2 144.2,272.1 206.2,268.8" fill="none" stroke="#a0a0e6" stroke-width="1.0" stroke-opacity="1.0" stroke-linejoin="round" stroke-linecap="round"/>
<polyline points="27.3,304.3 31.2,300.0 35.8,293.8 38.8,286.2 42.7,277.7 45.8,275.4 49.6,270.0 55.8,269.2 65.0,267.7 69.6,265.4 80.4,261.5 94.2,260.0 105.0,257.9 144.2,255.0 206.2,250.6" fill="none" stroke="#e89c9c" stroke-width="1.0" stroke-opacity="1.0" stroke-linejoin="round" stroke-linecap="round"/>
<rect x="273.5" y="174.0" width="218.3" height="139.5" fill="none" stroke="#d2d2d2" stroke-width="1.1"/>
<line x1="274.3" y1="313.5" x2="274.3" y2="314.9" stroke="#b8b8b8" stroke-width="0.5"/>
<line x1="277.9" y1="313.5" x2="277.9" y2="314.6" stroke="#b8b8b8" stroke-width="0.5"/>
<line x1="281.49" y1="313.5" x2="281.49" y2="314.6" stroke="#b8b8b8" stroke-width="0.5"/>
<line x1="285.09" y1="313.5" x2="285.09" y2="314.6" stroke="#b8b8b8" stroke-width="0.5"/>
<line x1="288.68" y1="313.5" x2="288.68" y2="314.6" stroke="#b8b8b8" stroke-width="0.5"/>
<line x1="292.28" y1="313.5" x2="292.28" y2="314.6" stroke="#b8b8b8" stroke-width="0.5"/>
<line x1="295.87" y1="313.5" x2="295.87" y2="314.9" stroke="#b8b8b8" stroke-width="0.5"/>
<line x1="299.47" y1="313.5" x2="299.47" y2="314.6" stroke="#b8b8b8" stroke-width="0.5"/>
<line x1="303.06" y1="313.5" x2="303.06" y2="314.6" stroke="#b8b8b8" stroke-width="0.5"/>
<line x1="306.66" y1="313.5" x2="306.66" y2="314.6" stroke="#b8b8b8" stroke-width="0.5"/>
<line x1="310.25" y1="313.5" x2="310.25" y2="314.6" stroke="#b8b8b8" stroke-width="0.5"/>
<line x1="313.85" y1="313.5" x2="313.85" y2="314.6" stroke="#b8b8b8" stroke-width="0.5"/>
<line x1="317.44" y1="313.5" x2="317.44" y2="314.9" stroke="#b8b8b8" stroke-width="0.5"/>
<line x1="321.04" y1="313.5" x2="321.04" y2="314.6" stroke="#b8b8b8" stroke-width="0.5"/>
<line x1="324.63" y1="313.5" x2="324.63" y2="314.6" stroke="#b8b8b8" stroke-width="0.5"/>
<line x1="328.23" y1="313.5" x2="328.23" y2="314.6" stroke="#b8b8b8" stroke-width="0.5"/>
<line x1="331.82" y1="313.5" x2="331.82" y2="314.6" stroke="#b8b8b8" stroke-width="0.5"/>
<line x1="335.42" y1="313.5" x2="335.42" y2="314.6" stroke="#b8b8b8" stroke-width="0.5"/>
<line x1="339.01" y1="313.5" x2="339.01" y2="314.9" stroke="#b8b8b8" stroke-width="0.5"/>
<line x1="342.61" y1="313.5" x2="342.61" y2="314.6" stroke="#b8b8b8" stroke-width="0.5"/>
<line x1="346.2" y1="313.5" x2="346.2" y2="314.6" stroke="#b8b8b8" stroke-width="0.5"/>
<line x1="349.8" y1="313.5" x2="349.8" y2="314.6" stroke="#b8b8b8" stroke-width="0.5"/>
<line x1="353.39" y1="313.5" x2="353.39" y2="314.6" stroke="#b8b8b8" stroke-width="0.5"/>
<line x1="356.99" y1="313.5" x2="356.99" y2="314.6" stroke="#b8b8b8" stroke-width="0.5"/>
<line x1="360.58" y1="313.5" x2="360.58" y2="314.9" stroke="#b8b8b8" stroke-width="0.5"/>
<line x1="364.18" y1="313.5" x2="364.18" y2="314.6" stroke="#b8b8b8" stroke-width="0.5"/>
<line x1="367.77" y1="313.5" x2="367.77" y2="314.6" stroke="#b8b8b8" stroke-width="0.5"/>
<line x1="371.37" y1="313.5" x2="371.37" y2="314.6" stroke="#b8b8b8" stroke-width="0.5"/>
<line x1="374.96" y1="313.5" x2="374.96" y2="314.6" stroke="#b8b8b8" stroke-width="0.5"/>
<line x1="378.56" y1="313.5" x2="378.56" y2="314.6" stroke="#b8b8b8" stroke-width="0.5"/>
<line x1="382.15" y1="313.5" x2="382.15" y2="314.9" stroke="#b8b8b8" stroke-width="0.5"/>
<line x1="385.75" y1="313.5" x2="385.75" y2="314.6" stroke="#b8b8b8" stroke-width="0.5"/>
<line x1="389.34" y1="313.5" x2="389.34" y2="314.6" stroke="#b8b8b8" stroke-width="0.5"/>
<line x1="392.94" y1="313.5" x2="392.94" y2="314.6" stroke="#b8b8b8" stroke-width="0.5"/>
<line x1="396.53" y1="313.5" x2="396.53" y2="314.6" stroke="#b8b8b8" stroke-width="0.5"/>
<line x1="400.12" y1="313.5" x2="400.12" y2="314.6" stroke="#b8b8b8" stroke-width="0.5"/>
<line x1="403.72" y1="313.5" x2="403.72" y2="314.9" stroke="#b8b8b8" stroke-width="0.5"/>
<line x1="407.31" y1="313.5" x2="407.31" y2="314.6" stroke="#b8b8b8" stroke-width="0.5"/>
<line x1="410.91" y1="313.5" x2="410.91" y2="314.6" stroke="#b8b8b8" stroke-width="0.5"/>
<line x1="414.5" y1="313.5" x2="414.5" y2="314.6" stroke="#b8b8b8" stroke-width="0.5"/>
<line x1="418.1" y1="313.5" x2="418.1" y2="314.6" stroke="#b8b8b8" stroke-width="0.5"/>
<line x1="421.69" y1="313.5" x2="421.69" y2="314.6" stroke="#b8b8b8" stroke-width="0.5"/>
<line x1="425.29" y1="313.5" x2="425.29" y2="314.9" stroke="#b8b8b8" stroke-width="0.5"/>
<line x1="428.88" y1="313.5" x2="428.88" y2="314.6" stroke="#b8b8b8" stroke-width="0.5"/>
<line x1="432.48" y1="313.5" x2="432.48" y2="314.6" stroke="#b8b8b8" stroke-width="0.5"/>
<line x1="436.08" y1="313.5" x2="436.08" y2="314.6" stroke="#b8b8b8" stroke-width="0.5"/>
<line x1="439.67" y1="313.5" x2="439.67" y2="314.6" stroke="#b8b8b8" stroke-width="0.5"/>
<line x1="443.26" y1="313.5" x2="443.26" y2="314.6" stroke="#b8b8b8" stroke-width="0.5"/>
<line x1="446.86" y1="313.5" x2="446.86" y2="314.9" stroke="#b8b8b8" stroke-width="0.5"/>
<line x1="450.46" y1="313.5" x2="450.46" y2="314.6" stroke="#b8b8b8" stroke-width="0.5"/>
<line x1="454.05" y1="313.5" x2="454.05" y2="314.6" stroke="#b8b8b8" stroke-width="0.5"/>
<line x1="457.64" y1="313.5" x2="457.64" y2="314.6" stroke="#b8b8b8" stroke-width="0.5"/>
<line x1="461.24" y1="313.5" x2="461.24" y2="314.6" stroke="#b8b8b8" stroke-width="0.5"/>
<line x1="464.83" y1="313.5" x2="464.83" y2="314.6" stroke="#b8b8b8" stroke-width="0.5"/>
<line x1="468.43" y1="313.5" x2="468.43" y2="314.9" stroke="#b8b8b8" stroke-width="0.5"/>
<line x1="472.02" y1="313.5" x2="472.02" y2="314.6" stroke="#b8b8b8" stroke-width="0.5"/>
<line x1="475.62" y1="313.5" x2="475.62" y2="314.6" stroke="#b8b8b8" stroke-width="0.5"/>
<line x1="479.22" y1="313.5" x2="479.22" y2="314.6" stroke="#b8b8b8" stroke-width="0.5"/>
<line x1="482.81" y1="313.5" x2="482.81" y2="314.6" stroke="#b8b8b8" stroke-width="0.5"/>
<line x1="486.4" y1="313.5" x2="486.4" y2="314.6" stroke="#b8b8b8" stroke-width="0.5"/>
<line x1="490.0" y1="313.5" x2="490.0" y2="314.9" stroke="#b8b8b8" stroke-width="0.5"/>
<text x="273.35" y="320.2" font-size="4.0" font-family='"Liberation Sans", sans-serif' fill="#555" text-anchor="start" font-weight="bold" textLength="1.9" lengthAdjust="spacingAndGlyphs" >0</text>
<text x="294.92" y="320.2" font-size="4.0" font-family='"Liberation Sans", sans-serif' fill="#555" text-anchor="start" font-weight="bold" textLength="1.9" lengthAdjust="spacingAndGlyphs" >6</text>
<text x="315.54" y="320.2" font-size="4.0" font-family='"Liberation Sans", sans-serif' fill="#555" text-anchor="start" font-weight="bold" textLength="3.8" lengthAdjust="spacingAndGlyphs" >12</text>
<text x="337.11" y="320.2" font-size="4.0" font-family='"Liberation Sans", sans-serif' fill="#555" text-anchor="start" font-weight="bold" textLength="3.8" lengthAdjust="spacingAndGlyphs" >18</text>
<text x="358.68" y="320.2" font-size="4.0" font-family='"Liberation Sans", sans-serif' fill="#555" text-anchor="start" font-weight="bold" textLength="3.8" lengthAdjust="spacingAndGlyphs" >24</text>
<text x="380.25" y="320.2" font-size="4.0" font-family='"Liberation Sans", sans-serif' fill="#555" text-anchor="start" font-weight="bold" textLength="3.8" lengthAdjust="spacingAndGlyphs" >30</text>
<text x="401.82" y="320.2" font-size="4.0" font-family='"Liberation Sans", sans-serif' fill="#555" text-anchor="start" font-weight="bold" textLength="3.8" lengthAdjust="spacingAndGlyphs" >36</text>
<text x="423.39" y="320.2" font-size="4.0" font-family='"Liberation Sans", sans-serif' fill="#555" text-anchor="start" font-weight="bold" textLength="3.8" lengthAdjust="spacingAndGlyphs" >42</text>
<text x="444.96" y="320.2" font-size="4.0" font-family='"Liberation Sans", sans-serif' fill="#555" text-anchor="start" font-weight="bold" textLength="3.8" lengthAdjust="spacingAndGlyphs" >48</text>
<text x="466.53" y="320.2" font-size="4.0" font-family='"Liberation Sans", sans-serif' fill="#555" text-anchor="start" font-weight="bold" textLength="3.8" lengthAdjust="spacingAndGlyphs" >54</text>
<text x="488.1" y="320.2" font-size="4.0" font-family='"Liberation Sans", sans-serif' fill="#555" text-anchor="start" font-weight="bold" textLength="3.8" lengthAdjust="spacingAndGlyphs" >60</text>
<line x1="272.5" y1="311.3" x2="273.5" y2="311.3" stroke="#d0d0d0" stroke-width="0.5"/>
<line x1="272.5" y1="304.47" x2="273.5" y2="304.47" stroke="#d0d0d0" stroke-width="0.5"/>
<line x1="272.5" y1="297.63" x2="273.5" y2="297.63" stroke="#d0d0d0" stroke-width="0.5"/>
<line x1="272.5" y1="290.8" x2="273.5" y2="290.8" stroke="#d0d0d0" stroke-width="0.5"/>
<line x1="272.5" y1="283.96" x2="273.5" y2="283.96" stroke="#d0d0d0" stroke-width="0.5"/>
<line x1="272.5" y1="277.12" x2="273.5" y2="277.12" stroke="#d0d0d0" stroke-width="0.5"/>
<line x1="272.5" y1="270.29" x2="273.5" y2="270.29" stroke="#d0d0d0" stroke-width="0.5"/>
<line x1="272.5" y1="263.45" x2="273.5" y2="263.45" stroke="#d0d0d0" stroke-width="0.5"/>
<line x1="272.5" y1="256.62" x2="273.5" y2="256.62" stroke="#d0d0d0" stroke-width="0.5"/>
<line x1="272.5" y1="249.78" x2="273.5" y2="249.78" stroke="#d0d0d0" stroke-width="0.5"/>
<line x1="272.5" y1="242.95" x2="273.5" y2="242.95" stroke="#d0d0d0" stroke-width="0.5"/>
<line x1="272.5" y1="236.12" x2="273.5" y2="236.12" stroke="#d0d0d0" stroke-width="0.5"/>
<line x1="272.5" y1="229.28" x2="273.5" y2="229.28" stroke="#d0d0d0" stroke-width="0.5"/>
<line x1="272.5" y1="222.44" x2="273.5" y2="222.44" stroke="#d0d0d0" stroke-width="0.5"/>
<line x1="272.5" y1="215.61" x2="273.5" y2="215.61" stroke="#d0d0d0" stroke-width="0.5"/>
<line x1="272.5" y1="208.78" x2="273.5" y2="208.78" stroke="#d0d0d0" stroke-width="0.5"/>
<line x1="272.5" y1="201.94" x2="273.5" y2="201.94" stroke="#d0d0d0" stroke-width="0.5"/>
<line x1="272.5" y1="195.11" x2="273.5" y2="195.11" stroke="#d0d0d0" stroke-width="0.5"/>
<line x1="272.5" y1="188.27" x2="273.5" y2="188.27" stroke="#d0d0d0" stroke-width="0.5"/>
<line x1="272.5" y1="181.44" x2="273.5" y2="181.44" stroke="#d0d0d0" stroke-width="0.5"/>
<line x1="272.5" y1="174.6" x2="273.5" y2="174.6" stroke="#d0d0d0" stroke-width="0.5"/>
<text x="267.2" y="313.1" font-size="4.2" font-family='"Liberation Sans", sans-serif' fill="#555" text-anchor="start" font-weight="bold" textLength="4.8" lengthAdjust="spacingAndGlyphs" >0.0</text>
<text x="267.2" y="285.8" font-size="4.2" font-family='"Liberation Sans", sans-serif' fill="#555" text-anchor="start" font-weight="bold" textLength="4.8" lengthAdjust="spacingAndGlyphs" >0.2</text>
<text x="267.2" y="258.4" font-size="4.2" font-family='"Liberation Sans", sans-serif' fill="#555" text-anchor="start" font-weight="bold" textLength="4.8" lengthAdjust="spacingAndGlyphs" >0.4</text>
<text x="267.2" y="231.1" font-size="4.2" font-family='"Liberation Sans", sans-serif' fill="#555" text-anchor="start" font-weight="bold" textLength="4.8" lengthAdjust="spacingAndGlyphs" >0.6</text>
<text x="267.2" y="203.7" font-size="4.2" font-family='"Liberation Sans", sans-serif' fill="#555" text-anchor="start" font-weight="bold" textLength="4.8" lengthAdjust="spacingAndGlyphs" >0.8</text>
<text x="267.2" y="176.4" font-size="4.2" font-family='"Liberation Sans", sans-serif' fill="#555" text-anchor="start" font-weight="bold" textLength="4.8" lengthAdjust="spacingAndGlyphs" >1.0</text>
<text x="255.5" y="171.8" font-size="4.0" font-family='"Liberation Sans", sans-serif' fill="#333" text-anchor="start" font-weight="normal" textLength="15.5" lengthAdjust="spacingAndGlyphs" >cumm_rel</text>
<text x="0" y="0" transform="translate(259.0,236.39999999999998) rotate(-90)" font-size="5.2" font-family='"Liberation Serif", serif' fill="#555" font-weight="bold" text-anchor="middle" textLength="85.6" lengthAdjust="spacingAndGlyphs">Adjusted Cumulative Incidence of Relapse</text>
<text x="452.0" y="186.7" font-size="5.2" font-family='"Liberation Sans", sans-serif' fill="#333" text-anchor="start" font-weight="normal" textLength="25.30000000000001" lengthAdjust="spacingAndGlyphs" >P Wald=0.44</text>
<polyline points="274.6,311.9 280.8,305.8 286.9,301.9 295.4,295.8 296.9,285.8 300.8,281.2 310.0,277.3 319.2,274.2 331.5,272.4 350.0,270.8 389.2,270.2 433.5,269.3 454.5,267.1" fill="none" stroke="#e8b0b4" stroke-width="1.0" stroke-opacity="1.0" stroke-linejoin="round" stroke-linecap="round"/>
<polyline points="274.6,311.9 280.8,305.0 285.4,299.6 290.8,295.0 295.4,291.2 296.2,280.4 298.5,275.0 302.3,270.4 310.0,267.3 316.2,264.2 325.4,261.9 336.2,259.9 350.0,259.7 389.2,258.3 433.5,257.2 442.3,256.1 454.5,254.5" fill="none" stroke="#a8a8e0" stroke-width="1.0" stroke-opacity="1.0" stroke-linejoin="round" stroke-linecap="round"/>
<rect x="25.5" y="337.0" width="208.9" height="134.60000000000002" fill="none" stroke="#d2d2d2" stroke-width="1.1"/>
<line x1="26.0" y1="471.6" x2="26.0" y2="473.0" stroke="#b8b8b8" stroke-width="0.5"/>
<line x1="29.45" y1="471.6" x2="29.45" y2="472.70000000000005" stroke="#b8b8b8" stroke-width="0.5"/>
<line x1="32.9" y1="471.6" x2="32.9" y2="472.70000000000005" stroke="#b8b8b8" stroke-width="0.5"/>
<line x1="36.35" y1="471.6" x2="36.35" y2="472.70000000000005" stroke="#b8b8b8" stroke-width="0.5"/>
<line x1="39.8" y1="471.6" x2="39.8" y2="472.70000000000005" stroke="#b8b8b8" stroke-width="0.5"/>
<line x1="43.25" y1="471.6" x2="43.25" y2="472.70000000000005" stroke="#b8b8b8" stroke-width="0.5"/>
<line x1="46.7" y1="471.6" x2="46.7" y2="473.0" stroke="#b8b8b8" stroke-width="0.5"/>
<line x1="50.15" y1="471.6" x2="50.15" y2="472.70000000000005" stroke="#b8b8b8" stroke-width="0.5"/>
<line x1="53.6" y1="471.6" x2="53.6" y2="472.70000000000005" stroke="#b8b8b8" stroke-width="0.5"/>
<line x1="57.05" y1="471.6" x2="57.05" y2="472.70000000000005" stroke="#b8b8b8" stroke-width="0.5"/>
<line x1="60.5" y1="471.6" x2="60.5" y2="472.70000000000005" stroke="#b8b8b8" stroke-width="0.5"/>
<line x1="63.95" y1="471.6" x2="63.95" y2="472.70000000000005" stroke="#b8b8b8" stroke-width="0.5"/>
<line x1="67.4" y1="471.6" x2="67.4" y2="473.0" stroke="#b8b8b8" stroke-width="0.5"/>
<line x1="70.85" y1="471.6" x2="70.85" y2="472.70000000000005" stroke="#b8b8b8" stroke-width="0.5"/>
<line x1="74.3" y1="471.6" x2="74.3" y2="472.70000000000005" stroke="#b8b8b8" stroke-width="0.5"/>
<line x1="77.75" y1="471.6" x2="77.75" y2="472.70000000000005" stroke="#b8b8b8" stroke-width="0.5"/>
<line x1="81.2" y1="471.6" x2="81.2" y2="472.70000000000005" stroke="#b8b8b8" stroke-width="0.5"/>
<line x1="84.65" y1="471.6" x2="84.65" y2="472.70000000000005" stroke="#b8b8b8" stroke-width="0.5"/>
<line x1="88.1" y1="471.6" x2="88.1" y2="473.0" stroke="#b8b8b8" stroke-width="0.5"/>
<line x1="91.55" y1="471.6" x2="91.55" y2="472.70000000000005" stroke="#b8b8b8" stroke-width="0.5"/>
<line x1="95.0" y1="471.6" x2="95.0" y2="472.70000000000005" stroke="#b8b8b8" stroke-width="0.5"/>
<line x1="98.45" y1="471.6" x2="98.45" y2="472.70000000000005" stroke="#b8b8b8" stroke-width="0.5"/>
<line x1="101.9" y1="471.6" x2="101.9" y2="472.70000000000005" stroke="#b8b8b8" stroke-width="0.5"/>
<line x1="105.35" y1="471.6" x2="105.35" y2="472.70000000000005" stroke="#b8b8b8" stroke-width="0.5"/>
<line x1="108.8" y1="471.6" x2="108.8" y2="473.0" stroke="#b8b8b8" stroke-width="0.5"/>
<line x1="112.25" y1="471.6" x2="112.25" y2="472.70000000000005" stroke="#b8b8b8" stroke-width="0.5"/>
<line x1="115.7" y1="471.6" x2="115.7" y2="472.70000000000005" stroke="#b8b8b8" stroke-width="0.5"/>
<line x1="119.15" y1="471.6" x2="119.15" y2="472.70000000000005" stroke="#b8b8b8" stroke-width="0.5"/>
<line x1="122.6" y1="471.6" x2="122.6" y2="472.70000000000005" stroke="#b8b8b8" stroke-width="0.5"/>
<line x1="126.05" y1="471.6" x2="126.05" y2="472.70000000000005" stroke="#b8b8b8" stroke-width="0.5"/>
<line x1="129.5" y1="471.6" x2="129.5" y2="473.0" stroke="#b8b8b8" stroke-width="0.5"/>
<line x1="132.95" y1="471.6" x2="132.95" y2="472.70000000000005" stroke="#b8b8b8" stroke-width="0.5"/>
<line x1="136.4" y1="471.6" x2="136.4" y2="472.70000000000005" stroke="#b8b8b8" stroke-width="0.5"/>
<line x1="139.85" y1="471.6" x2="139.85" y2="472.70000000000005" stroke="#b8b8b8" stroke-width="0.5"/>
<line x1="143.3" y1="471.6" x2="143.3" y2="472.70000000000005" stroke="#b8b8b8" stroke-width="0.5"/>
<line x1="146.75" y1="471.6" x2="146.75" y2="472.70000000000005" stroke="#b8b8b8" stroke-width="0.5"/>
<line x1="150.2" y1="471.6" x2="150.2" y2="473.0" stroke="#b8b8b8" stroke-width="0.5"/>
<line x1="153.65" y1="471.6" x2="153.65" y2="472.70000000000005" stroke="#b8b8b8" stroke-width="0.5"/>
<line x1="157.1" y1="471.6" x2="157.1" y2="472.70000000000005" stroke="#b8b8b8" stroke-width="0.5"/>
<line x1="160.55" y1="471.6" x2="160.55" y2="472.70000000000005" stroke="#b8b8b8" stroke-width="0.5"/>
<line x1="164.0" y1="471.6" x2="164.0" y2="472.70000000000005" stroke="#b8b8b8" stroke-width="0.5"/>
<line x1="167.45" y1="471.6" x2="167.45" y2="472.70000000000005" stroke="#b8b8b8" stroke-width="0.5"/>
<line x1="170.9" y1="471.6" x2="170.9" y2="473.0" stroke="#b8b8b8" stroke-width="0.5"/>
<line x1="174.35" y1="471.6" x2="174.35" y2="472.70000000000005" stroke="#b8b8b8" stroke-width="0.5"/>
<line x1="177.8" y1="471.6" x2="177.8" y2="472.70000000000005" stroke="#b8b8b8" stroke-width="0.5"/>
<line x1="181.25" y1="471.6" x2="181.25" y2="472.70000000000005" stroke="#b8b8b8" stroke-width="0.5"/>
<line x1="184.7" y1="471.6" x2="184.7" y2="472.70000000000005" stroke="#b8b8b8" stroke-width="0.5"/>
<line x1="188.15" y1="471.6" x2="188.15" y2="472.70000000000005" stroke="#b8b8b8" stroke-width="0.5"/>
<line x1="191.6" y1="471.6" x2="191.6" y2="473.0" stroke="#b8b8b8" stroke-width="0.5"/>
<line x1="195.05" y1="471.6" x2="195.05" y2="472.70000000000005" stroke="#b8b8b8" stroke-width="0.5"/>
<line x1="198.5" y1="471.6" x2="198.5" y2="472.70000000000005" stroke="#b8b8b8" stroke-width="0.5"/>
<line x1="201.95" y1="471.6" x2="201.95" y2="472.70000000000005" stroke="#b8b8b8" stroke-width="0.5"/>
<line x1="205.4" y1="471.6" x2="205.4" y2="472.70000000000005" stroke="#b8b8b8" stroke-width="0.5"/>
<line x1="208.85" y1="471.6" x2="208.85" y2="472.70000000000005" stroke="#b8b8b8" stroke-width="0.5"/>
<line x1="212.3" y1="471.6" x2="212.3" y2="473.0" stroke="#b8b8b8" stroke-width="0.5"/>
<line x1="215.75" y1="471.6" x2="215.75" y2="472.70000000000005" stroke="#b8b8b8" stroke-width="0.5"/>
<line x1="219.2" y1="471.6" x2="219.2" y2="472.70000000000005" stroke="#b8b8b8" stroke-width="0.5"/>
<line x1="222.65" y1="471.6" x2="222.65" y2="472.70000000000005" stroke="#b8b8b8" stroke-width="0.5"/>
<line x1="226.1" y1="471.6" x2="226.1" y2="472.70000000000005" stroke="#b8b8b8" stroke-width="0.5"/>
<line x1="229.55" y1="471.6" x2="229.55" y2="472.70000000000005" stroke="#b8b8b8" stroke-width="0.5"/>
<line x1="233.0" y1="471.6" x2="233.0" y2="473.0" stroke="#b8b8b8" stroke-width="0.5"/>
<text x="25.05" y="478.0" font-size="4.0" font-family='"Liberation Sans", sans-serif' fill="#555" text-anchor="start" font-weight="bold" textLength="1.9" lengthAdjust="spacingAndGlyphs" >0</text>
<text x="45.75" y="478.0" font-size="4.0" font-family='"Liberation Sans", sans-serif' fill="#555" text-anchor="start" font-weight="bold" textLength="1.9" lengthAdjust="spacingAndGlyphs" >6</text>
<text x="65.5" y="478.0" font-size="4.0" font-family='"Liberation Sans", sans-serif' fill="#555" text-anchor="start" font-weight="bold" textLength="3.8" lengthAdjust="spacingAndGlyphs" >12</text>
<text x="86.2" y="478.0" font-size="4.0" font-family='"Liberation Sans", sans-serif' fill="#555" text-anchor="start" font-weight="bold" textLength="3.8" lengthAdjust="spacingAndGlyphs" >18</text>
<text x="106.9" y="478.0" font-size="4.0" font-family='"Liberation Sans", sans-serif' fill="#555" text-anchor="start" font-weight="bold" textLength="3.8" lengthAdjust="spacingAndGlyphs" >24</text>
<text x="127.6" y="478.0" font-size="4.0" font-family='"Liberation Sans", sans-serif' fill="#555" text-anchor="start" font-weight="bold" textLength="3.8" lengthAdjust="spacingAndGlyphs" >30</text>
<text x="148.3" y="478.0" font-size="4.0" font-family='"Liberation Sans", sans-serif' fill="#555" text-anchor="start" font-weight="bold" textLength="3.8" lengthAdjust="spacingAndGlyphs" >36</text>
<text x="169.0" y="478.0" font-size="4.0" font-family='"Liberation Sans", sans-serif' fill="#555" text-anchor="start" font-weight="bold" textLength="3.8" lengthAdjust="spacingAndGlyphs" >42</text>
<text x="189.7" y="478.0" font-size="4.0" font-family='"Liberation Sans", sans-serif' fill="#555" text-anchor="start" font-weight="bold" textLength="3.8" lengthAdjust="spacingAndGlyphs" >48</text>
<text x="210.4" y="478.0" font-size="4.0" font-family='"Liberation Sans", sans-serif' fill="#555" text-anchor="start" font-weight="bold" textLength="3.8" lengthAdjust="spacingAndGlyphs" >54</text>
<text x="231.1" y="478.0" font-size="4.0" font-family='"Liberation Sans", sans-serif' fill="#555" text-anchor="start" font-weight="bold" textLength="3.8" lengthAdjust="spacingAndGlyphs" >60</text>
<line x1="24.5" y1="470.0" x2="25.5" y2="470.0" stroke="#d0d0d0" stroke-width="0.5"/>
<line x1="24.5" y1="463.42" x2="25.5" y2="463.42" stroke="#d0d0d0" stroke-width="0.5"/>
<line x1="24.5" y1="456.83" x2="25.5" y2="456.83" stroke="#d0d0d0" stroke-width="0.5"/>
<line x1="24.5" y1="450.25" x2="25.5" y2="450.25" stroke="#d0d0d0" stroke-width="0.5"/>
<line x1="24.5" y1="443.66" x2="25.5" y2="443.66" stroke="#d0d0d0" stroke-width="0.5"/>
<line x1="24.5" y1="437.07" x2="25.5" y2="437.07" stroke="#d0d0d0" stroke-width="0.5"/>
<line x1="24.5" y1="430.49" x2="25.5" y2="430.49" stroke="#d0d0d0" stroke-width="0.5"/>
<line x1="24.5" y1="423.91" x2="25.5" y2="423.91" stroke="#d0d0d0" stroke-width="0.5"/>
<line x1="24.5" y1="417.32" x2="25.5" y2="417.32" stroke="#d0d0d0" stroke-width="0.5"/>
<line x1="24.5" y1="410.74" x2="25.5" y2="410.74" stroke="#d0d0d0" stroke-width="0.5"/>
<line x1="24.5" y1="404.15" x2="25.5" y2="404.15" stroke="#d0d0d0" stroke-width="0.5"/>
<line x1="24.5" y1="397.56" x2="25.5" y2="397.56" stroke="#d0d0d0" stroke-width="0.5"/>
<line x1="24.5" y1="390.98" x2="25.5" y2="390.98" stroke="#d0d0d0" stroke-width="0.5"/>
<line x1="24.5" y1="384.39" x2="25.5" y2="384.39" stroke="#d0d0d0" stroke-width="0.5"/>
<line x1="24.5" y1="377.81" x2="25.5" y2="377.81" stroke="#d0d0d0" stroke-width="0.5"/>
<line x1="24.5" y1="371.23" x2="25.5" y2="371.23" stroke="#d0d0d0" stroke-width="0.5"/>
<line x1="24.5" y1="364.64" x2="25.5" y2="364.64" stroke="#d0d0d0" stroke-width="0.5"/>
<line x1="24.5" y1="358.06" x2="25.5" y2="358.06" stroke="#d0d0d0" stroke-width="0.5"/>
<line x1="24.5" y1="351.47" x2="25.5" y2="351.47" stroke="#d0d0d0" stroke-width="0.5"/>
<line x1="24.5" y1="344.88" x2="25.5" y2="344.88" stroke="#d0d0d0" stroke-width="0.5"/>
<line x1="24.5" y1="338.3" x2="25.5" y2="338.3" stroke="#d0d0d0" stroke-width="0.5"/>
<text x="18.2" y="471.8" font-size="4.2" font-family='"Liberation Sans", sans-serif' fill="#555" text-anchor="start" font-weight="bold" textLength="4.8" lengthAdjust="spacingAndGlyphs" >0.0</text>
<text x="18.2" y="445.5" font-size="4.2" font-family='"Liberation Sans", sans-serif' fill="#555" text-anchor="start" font-weight="bold" textLength="4.8" lengthAdjust="spacingAndGlyphs" >0.2</text>
<text x="18.2" y="419.1" font-size="4.2" font-family='"Liberation Sans", sans-serif' fill="#555" text-anchor="start" font-weight="bold" textLength="4.8" lengthAdjust="spacingAndGlyphs" >0.4</text>
<text x="18.2" y="392.8" font-size="4.2" font-family='"Liberation Sans", sans-serif' fill="#555" text-anchor="start" font-weight="bold" textLength="4.8" lengthAdjust="spacingAndGlyphs" >0.6</text>
<text x="18.2" y="366.4" font-size="4.2" font-family='"Liberation Sans", sans-serif' fill="#555" text-anchor="start" font-weight="bold" textLength="4.8" lengthAdjust="spacingAndGlyphs" >0.8</text>
<text x="18.2" y="340.1" font-size="4.2" font-family='"Liberation Sans", sans-serif' fill="#555" text-anchor="start" font-weight="bold" textLength="4.8" lengthAdjust="spacingAndGlyphs" >1.0</text>
<text x="2" y="335.8" font-size="4.0" font-family='"Liberation Sans", sans-serif' fill="#333" text-anchor="start" font-weight="normal" textLength="22" lengthAdjust="spacingAndGlyphs" >cumul_NRM</text>
<text x="0" y="0" transform="translate(8.6,405.15) rotate(-90)" font-size="5.2" font-family='"Liberation Sans", sans-serif' fill="#666" font-weight="normal" text-anchor="middle" textLength="94.69999999999999" lengthAdjust="spacingAndGlyphs">Adjusted Cumulative Incidence of Non relapse Mortality</text>
<text x="203.5" y="343.8" font-size="5.2" font-family='"Liberation Sans", sans-serif' fill="#333" text-anchor="start" font-weight="bold" textLength="20.80000000000001" lengthAdjust="spacingAndGlyphs" >P Wald=0.02</text>
<polyline points="25.8,470.4 29.7,467.3 35.8,461.5 40.5,459.3 46.6,454.2 52.8,451.9 61.0,447.1 64.0,446.1 80.0,445.5 95.0,445.2 106.5,443.1 116.2,440.2 133.5,438.8 187.3,437.3 189.2,436.0" fill="none" stroke="#a0c8a8" stroke-width="1.0" stroke-opacity="1.0" stroke-linejoin="round" stroke-linecap="round"/>
<polyline points="25.8,470.4 29.7,467.8 35.8,462.0 40.5,460.0 46.6,455.0 52.8,452.8 61.0,448.3 64.0,447.4 80.0,447.0 95.0,446.6 106.5,444.6 116.2,442.1 133.5,441.2 187.3,439.2 189.2,438.3" fill="none" stroke="#eca4b0" stroke-width="1.0" stroke-opacity="1.0" stroke-linejoin="round" stroke-linecap="round"/>
<polyline points="25.8,470.4 28.9,463.0 31.2,458.5 33.5,453.5 36.6,448.1 40.5,443.5 45.1,432.7 49.7,430.4 53.5,428.1 62.0,419.6 66.6,418.1 77.4,417.8 91.2,416.8 101.7,416.5 104.6,414.2 114.2,410.4 123.8,406.2 133.5,405.0 162.3,403.7 185.4,402.7 189.2,401.3" fill="none" stroke="#9898b0" stroke-width="1.0" stroke-opacity="1.0" stroke-linejoin="round" stroke-linecap="round"/>
<polyline points="25.8,470.4 29.7,467.5 35.8,461.7 40.5,459.6 46.6,454.6 52.8,452.3 61.0,447.7 64.0,446.8" fill="none" stroke="#a4a4a4" stroke-width="1.3" stroke-opacity="1.0" stroke-linejoin="round" stroke-linecap="round"/>
<rect x="273.5" y="335.6" width="214.3" height="135.39999999999998" fill="none" stroke="#d2d2d2" stroke-width="1.1"/>
<line x1="274.5" y1="471.0" x2="274.5" y2="472.4" stroke="#b8b8b8" stroke-width="0.5"/>
<line x1="278.04" y1="471.0" x2="278.04" y2="472.1" stroke="#b8b8b8" stroke-width="0.5"/>
<line x1="281.58" y1="471.0" x2="281.58" y2="472.1" stroke="#b8b8b8" stroke-width="0.5"/>
<line x1="285.12" y1="471.0" x2="285.12" y2="472.1" stroke="#b8b8b8" stroke-width="0.5"/>
<line x1="288.67" y1="471.0" x2="288.67" y2="472.1" stroke="#b8b8b8" stroke-width="0.5"/>
<line x1="292.21" y1="471.0" x2="292.21" y2="472.1" stroke="#b8b8b8" stroke-width="0.5"/>
<line x1="295.75" y1="471.0" x2="295.75" y2="472.4" stroke="#b8b8b8" stroke-width="0.5"/>
<line x1="299.29" y1="471.0" x2="299.29" y2="472.1" stroke="#b8b8b8" stroke-width="0.5"/>
<line x1="302.83" y1="471.0" x2="302.83" y2="472.1" stroke="#b8b8b8" stroke-width="0.5"/>
<line x1="306.38" y1="471.0" x2="306.38" y2="472.1" stroke="#b8b8b8" stroke-width="0.5"/>
<line x1="309.92" y1="471.0" x2="309.92" y2="472.1" stroke="#b8b8b8" stroke-width="0.5"/>
<line x1="313.46" y1="471.0" x2="313.46" y2="472.1" stroke="#b8b8b8" stroke-width="0.5"/>
<line x1="317.0" y1="471.0" x2="317.0" y2="472.4" stroke="#b8b8b8" stroke-width="0.5"/>
<line x1="320.54" y1="471.0" x2="320.54" y2="472.1" stroke="#b8b8b8" stroke-width="0.5"/>
<line x1="324.08" y1="471.0" x2="324.08" y2="472.1" stroke="#b8b8b8" stroke-width="0.5"/>
<line x1="327.62" y1="471.0" x2="327.62" y2="472.1" stroke="#b8b8b8" stroke-width="0.5"/>
<line x1="331.17" y1="471.0" x2="331.17" y2="472.1" stroke="#b8b8b8" stroke-width="0.5"/>
<line x1="334.71" y1="471.0" x2="334.71" y2="472.1" stroke="#b8b8b8" stroke-width="0.5"/>
<line x1="338.25" y1="471.0" x2="338.25" y2="472.4" stroke="#b8b8b8" stroke-width="0.5"/>
<line x1="341.79" y1="471.0" x2="341.79" y2="472.1" stroke="#b8b8b8" stroke-width="0.5"/>
<line x1="345.33" y1="471.0" x2="345.33" y2="472.1" stroke="#b8b8b8" stroke-width="0.5"/>
<line x1="348.88" y1="471.0" x2="348.88" y2="472.1" stroke="#b8b8b8" stroke-width="0.5"/>
<line x1="352.42" y1="471.0" x2="352.42" y2="472.1" stroke="#b8b8b8" stroke-width="0.5"/>
<line x1="355.96" y1="471.0" x2="355.96" y2="472.1" stroke="#b8b8b8" stroke-width="0.5"/>
<line x1="359.5" y1="471.0" x2="359.5" y2="472.4" stroke="#b8b8b8" stroke-width="0.5"/>
<line x1="363.04" y1="471.0" x2="363.04" y2="472.1" stroke="#b8b8b8" stroke-width="0.5"/>
<line x1="366.58" y1="471.0" x2="366.58" y2="472.1" stroke="#b8b8b8" stroke-width="0.5"/>
<line x1="370.12" y1="471.0" x2="370.12" y2="472.1" stroke="#b8b8b8" stroke-width="0.5"/>
<line x1="373.67" y1="471.0" x2="373.67" y2="472.1" stroke="#b8b8b8" stroke-width="0.5"/>
<line x1="377.21" y1="471.0" x2="377.21" y2="472.1" stroke="#b8b8b8" stroke-width="0.5"/>
<line x1="380.75" y1="471.0" x2="380.75" y2="472.4" stroke="#b8b8b8" stroke-width="0.5"/>
<line x1="384.29" y1="471.0" x2="384.29" y2="472.1" stroke="#b8b8b8" stroke-width="0.5"/>
<line x1="387.83" y1="471.0" x2="387.83" y2="472.1" stroke="#b8b8b8" stroke-width="0.5"/>
<line x1="391.38" y1="471.0" x2="391.38" y2="472.1" stroke="#b8b8b8" stroke-width="0.5"/>
<line x1="394.92" y1="471.0" x2="394.92" y2="472.1" stroke="#b8b8b8" stroke-width="0.5"/>
<line x1="398.46" y1="471.0" x2="398.46" y2="472.1" stroke="#b8b8b8" stroke-width="0.5"/>
<line x1="402.0" y1="471.0" x2="402.0" y2="472.4" stroke="#b8b8b8" stroke-width="0.5"/>
<line x1="405.54" y1="471.0" x2="405.54" y2="472.1" stroke="#b8b8b8" stroke-width="0.5"/>
<line x1="409.08" y1="471.0" x2="409.08" y2="472.1" stroke="#b8b8b8" stroke-width="0.5"/>
<line x1="412.62" y1="471.0" x2="412.62" y2="472.1" stroke="#b8b8b8" stroke-width="0.5"/>
<line x1="416.17" y1="471.0" x2="416.17" y2="472.1" stroke="#b8b8b8" stroke-width="0.5"/>
<line x1="419.71" y1="471.0" x2="419.71" y2="472.1" stroke="#b8b8b8" stroke-width="0.5"/>
<line x1="423.25" y1="471.0" x2="423.25" y2="472.4" stroke="#b8b8b8" stroke-width="0.5"/>
<line x1="426.79" y1="471.0" x2="426.79" y2="472.1" stroke="#b8b8b8" stroke-width="0.5"/>
<line x1="430.33" y1="471.0" x2="430.33" y2="472.1" stroke="#b8b8b8" stroke-width="0.5"/>
<line x1="433.88" y1="471.0" x2="433.88" y2="472.1" stroke="#b8b8b8" stroke-width="0.5"/>
<line x1="437.42" y1="471.0" x2="437.42" y2="472.1" stroke="#b8b8b8" stroke-width="0.5"/>
<line x1="440.96" y1="471.0" x2="440.96" y2="472.1" stroke="#b8b8b8" stroke-width="0.5"/>
<line x1="444.5" y1="471.0" x2="444.5" y2="472.4" stroke="#b8b8b8" stroke-width="0.5"/>
<line x1="448.04" y1="471.0" x2="448.04" y2="472.1" stroke="#b8b8b8" stroke-width="0.5"/>
<line x1="451.58" y1="471.0" x2="451.58" y2="472.1" stroke="#b8b8b8" stroke-width="0.5"/>
<line x1="455.12" y1="471.0" x2="455.12" y2="472.1" stroke="#b8b8b8" stroke-width="0.5"/>
<line x1="458.67" y1="471.0" x2="458.67" y2="472.1" stroke="#b8b8b8" stroke-width="0.5"/>
<line x1="462.21" y1="471.0" x2="462.21" y2="472.1" stroke="#b8b8b8" stroke-width="0.5"/>
<line x1="465.75" y1="471.0" x2="465.75" y2="472.4" stroke="#b8b8b8" stroke-width="0.5"/>
<line x1="469.29" y1="471.0" x2="469.29" y2="472.1" stroke="#b8b8b8" stroke-width="0.5"/>
<line x1="472.83" y1="471.0" x2="472.83" y2="472.1" stroke="#b8b8b8" stroke-width="0.5"/>
<line x1="476.38" y1="471.0" x2="476.38" y2="472.1" stroke="#b8b8b8" stroke-width="0.5"/>
<line x1="479.92" y1="471.0" x2="479.92" y2="472.1" stroke="#b8b8b8" stroke-width="0.5"/>
<line x1="483.46" y1="471.0" x2="483.46" y2="472.1" stroke="#b8b8b8" stroke-width="0.5"/>
<line x1="487.0" y1="471.0" x2="487.0" y2="472.4" stroke="#b8b8b8" stroke-width="0.5"/>
<text x="273.55" y="477.5" font-size="4.0" font-family='"Liberation Sans", sans-serif' fill="#555" text-anchor="start" font-weight="bold" textLength="1.9" lengthAdjust="spacingAndGlyphs" >0</text>
<text x="294.8" y="477.5" font-size="4.0" font-family='"Liberation Sans", sans-serif' fill="#555" text-anchor="start" font-weight="bold" textLength="1.9" lengthAdjust="spacingAndGlyphs" >6</text>
<text x="315.1" y="477.5" font-size="4.0" font-family='"Liberation Sans", sans-serif' fill="#555" text-anchor="start" font-weight="bold" textLength="3.8" lengthAdjust="spacingAndGlyphs" >12</text>
<text x="336.35" y="477.5" font-size="4.0" font-family='"Liberation Sans", sans-serif' fill="#555" text-anchor="start" font-weight="bold" textLength="3.8" lengthAdjust="spacingAndGlyphs" >18</text>
<text x="357.6" y="477.5" font-size="4.0" font-family='"Liberation Sans", sans-serif' fill="#555" text-anchor="start" font-weight="bold" textLength="3.8" lengthAdjust="spacingAndGlyphs" >24</text>
<text x="378.85" y="477.5" font-size="4.0" font-family='"Liberation Sans", sans-serif' fill="#555" text-anchor="start" font-weight="bold" textLength="3.8" lengthAdjust="spacingAndGlyphs" >30</text>
<text x="400.1" y="477.5" font-size="4.0" font-family='"Liberation Sans", sans-serif' fill="#555" text-anchor="start" font-weight="bold" textLength="3.8" lengthAdjust="spacingAndGlyphs" >36</text>
<text x="421.35" y="477.5" font-size="4.0" font-family='"Liberation Sans", sans-serif' fill="#555" text-anchor="start" font-weight="bold" textLength="3.8" lengthAdjust="spacingAndGlyphs" >42</text>
<text x="442.6" y="477.5" font-size="4.0" font-family='"Liberation Sans", sans-serif' fill="#555" text-anchor="start" font-weight="bold" textLength="3.8" lengthAdjust="spacingAndGlyphs" >48</text>
<text x="463.85" y="477.5" font-size="4.0" font-family='"Liberation Sans", sans-serif' fill="#555" text-anchor="start" font-weight="bold" textLength="3.8" lengthAdjust="spacingAndGlyphs" >54</text>
<text x="485.1" y="477.5" font-size="4.0" font-family='"Liberation Sans", sans-serif' fill="#555" text-anchor="start" font-weight="bold" textLength="3.8" lengthAdjust="spacingAndGlyphs" >60</text>
<line x1="272.5" y1="469.5" x2="273.5" y2="469.5" stroke="#d0d0d0" stroke-width="0.5"/>
<line x1="272.5" y1="462.87" x2="273.5" y2="462.87" stroke="#d0d0d0" stroke-width="0.5"/>
<line x1="272.5" y1="456.23" x2="273.5" y2="456.23" stroke="#d0d0d0" stroke-width="0.5"/>
<line x1="272.5" y1="449.6" x2="273.5" y2="449.6" stroke="#d0d0d0" stroke-width="0.5"/>
<line x1="272.5" y1="442.96" x2="273.5" y2="442.96" stroke="#d0d0d0" stroke-width="0.5"/>
<line x1="272.5" y1="436.32" x2="273.5" y2="436.32" stroke="#d0d0d0" stroke-width="0.5"/>
<line x1="272.5" y1="429.69" x2="273.5" y2="429.69" stroke="#d0d0d0" stroke-width="0.5"/>
<line x1="272.5" y1="423.06" x2="273.5" y2="423.06" stroke="#d0d0d0" stroke-width="0.5"/>
<line x1="272.5" y1="416.42" x2="273.5" y2="416.42" stroke="#d0d0d0" stroke-width="0.5"/>
<line x1="272.5" y1="409.79" x2="273.5" y2="409.79" stroke="#d0d0d0" stroke-width="0.5"/>
<line x1="272.5" y1="403.15" x2="273.5" y2="403.15" stroke="#d0d0d0" stroke-width="0.5"/>
<line x1="272.5" y1="396.51" x2="273.5" y2="396.51" stroke="#d0d0d0" stroke-width="0.5"/>
<line x1="272.5" y1="389.88" x2="273.5" y2="389.88" stroke="#d0d0d0" stroke-width="0.5"/>
<line x1="272.5" y1="383.25" x2="273.5" y2="383.25" stroke="#d0d0d0" stroke-width="0.5"/>
<line x1="272.5" y1="376.61" x2="273.5" y2="376.61" stroke="#d0d0d0" stroke-width="0.5"/>
<line x1="272.5" y1="369.98" x2="273.5" y2="369.98" stroke="#d0d0d0" stroke-width="0.5"/>
<line x1="272.5" y1="363.34" x2="273.5" y2="363.34" stroke="#d0d0d0" stroke-width="0.5"/>
<line x1="272.5" y1="356.71" x2="273.5" y2="356.71" stroke="#d0d0d0" stroke-width="0.5"/>
<line x1="272.5" y1="350.07" x2="273.5" y2="350.07" stroke="#d0d0d0" stroke-width="0.5"/>
<line x1="272.5" y1="343.44" x2="273.5" y2="343.44" stroke="#d0d0d0" stroke-width="0.5"/>
<line x1="272.5" y1="336.8" x2="273.5" y2="336.8" stroke="#d0d0d0" stroke-width="0.5"/>
<text x="266.0" y="471.3" font-size="4.2" font-family='"Liberation Sans", sans-serif' fill="#555" text-anchor="start" font-weight="bold" textLength="4.8" lengthAdjust="spacingAndGlyphs" >0.0</text>
<text x="266.0" y="444.8" font-size="4.2" font-family='"Liberation Sans", sans-serif' fill="#555" text-anchor="start" font-weight="bold" textLength="4.8" lengthAdjust="spacingAndGlyphs" >0.2</text>
<text x="266.0" y="418.2" font-size="4.2" font-family='"Liberation Sans", sans-serif' fill="#555" text-anchor="start" font-weight="bold" textLength="4.8" lengthAdjust="spacingAndGlyphs" >0.4</text>
<text x="266.0" y="391.7" font-size="4.2" font-family='"Liberation Sans", sans-serif' fill="#555" text-anchor="start" font-weight="bold" textLength="4.8" lengthAdjust="spacingAndGlyphs" >0.6</text>
<text x="266.0" y="365.1" font-size="4.2" font-family='"Liberation Sans", sans-serif' fill="#555" text-anchor="start" font-weight="bold" textLength="4.8" lengthAdjust="spacingAndGlyphs" >0.8</text>
<text x="266.0" y="338.6" font-size="4.2" font-family='"Liberation Sans", sans-serif' fill="#555" text-anchor="start" font-weight="bold" textLength="4.8" lengthAdjust="spacingAndGlyphs" >1.0</text>
<text x="257" y="334.0" font-size="4.0" font-family='"Liberation Sans", sans-serif' fill="#333" text-anchor="start" font-weight="normal" textLength="14" lengthAdjust="spacingAndGlyphs" >cumm_rel</text>
<text x="0" y="0" transform="translate(260.0,401.35) rotate(-90)" font-size="5.2" font-family='"Liberation Sans", sans-serif' fill="#666" font-weight="normal" text-anchor="middle" textLength="68.30000000000001" lengthAdjust="spacingAndGlyphs">Adjusted Cumulative Incidence of Relapse</text>
<text x="445.3" y="345.3" font-size="5.2" font-family='"Liberation Sans", sans-serif' fill="#333" text-anchor="start" font-weight="normal" textLength="23.5" lengthAdjust="spacingAndGlyphs" >P Vald 0.44</text>
<polyline points="274.6,470.0 279.2,466.6 283.8,463.8 286.2,460.0 288.5,456.0 292.3,453.5 295.4,451.5 296.2,437.7 300.8,436.9 308.5,436.2 316.2,433.8 320.8,432.0 330.0,432.0 336.2,430.0 350.0,427.4 383.5,423.8 437.3,419.0 438.8,418.4" fill="none" stroke="#a8c4b0" stroke-width="1.0" stroke-opacity="1.0" stroke-linejoin="round" stroke-linecap="round"/>
<polyline points="274.6,470.0 279.2,466.2 283.8,463.1 286.2,458.5 288.5,453.8 292.3,451.5 295.4,449.2 296.2,430.0 300.8,429.2 308.5,427.7 316.2,424.6 320.8,423.1 330.0,423.1 336.2,420.8 350.0,417.7 383.5,414.2 437.3,408.8 438.8,408.5" fill="none" stroke="#e0aab6" stroke-width="1.0" stroke-opacity="1.0" stroke-linejoin="round" stroke-linecap="round"/>
<polyline points="274.6,470.0 279.2,465.8 283.8,462.5 286.2,457.5 288.5,452.5 292.3,450.5 295.4,448.5 296.2,426.2 300.8,424.6 308.5,423.1 316.2,420.0 320.8,418.5 330.0,418.2 336.2,415.4 350.0,412.3 383.5,409.4 437.3,403.7 438.8,403.2" fill="none" stroke="#98a0b4" stroke-width="1.0" stroke-opacity="1.0" stroke-linejoin="round" stroke-linecap="round"/>
<polyline points="274.6,470.0 279.2,466.2 283.8,463.1 286.2,458.5 288.5,453.8 292.3,451.5 295.4,449.2" fill="none" stroke="#888888" stroke-width="1.6" stroke-opacity="1.0" stroke-linejoin="round" stroke-linecap="round"/>
<text x="110.8" y="4.2" font-size="4.4" font-family='"Liberation Sans", sans-serif' fill="#555" text-anchor="start" font-weight="bold" textLength="36.1" lengthAdjust="spacingAndGlyphs" >Primary Myelofibrosis</text>
<text x="366" y="4.4" font-size="4.4" font-family='"Liberation Sans", sans-serif' fill="#555" text-anchor="start" font-weight="bold" textLength="36.3" lengthAdjust="spacingAndGlyphs" >Primary Myelofibrosis</text>
<text x="116.5" y="164.0" font-size="5.8" font-family='"Liberation Serif", serif' fill="#222" text-anchor="start" font-weight="normal" textLength="42.7" lengthAdjust="spacingAndGlyphs" stroke="#222" stroke-width="0.05">Post PV Myelofibrosis</text>
<text x="350.6" y="165.0" font-size="5.8" font-family='"Liberation Serif", serif' fill="#222" text-anchor="start" font-weight="normal" textLength="43.8" lengthAdjust="spacingAndGlyphs" stroke="#222" stroke-width="0.08">Post PV Myelofibrosis</text>
<text x="110.2" y="328.0" font-size="4.1" font-family='"Liberation Sans", sans-serif' fill="#333" text-anchor="start" font-weight="bold" textLength="36.5" lengthAdjust="spacingAndGlyphs" >Post ET Myelofibrosis</text>
<text x="363.5" y="326.9" font-size="4.1" font-family='"Liberation Sans", sans-serif' fill="#555" text-anchor="start" font-weight="bold" textLength="36.1" lengthAdjust="spacingAndGlyphs" >Post ET Myelofibrosis</text>
<text x="114.0" y="485.4" font-size="4.2" font-family='"Liberation Sans", sans-serif' fill="#555" text-anchor="start" font-weight="bold" textLength="38.5" lengthAdjust="spacingAndGlyphs" >Months after Transplant</text>
<text x="372.3" y="485.4" font-size="4.2" font-family='"Liberation Sans", sans-serif' fill="#555" text-anchor="start" font-weight="bold" textLength="38.9" lengthAdjust="spacingAndGlyphs" >Months after Transplant</text>
</g>
<text x="19.5" y="506.2" font-size="12.2" font-family='"Liberation Sans", sans-serif' fill="#333" text-anchor="start" font-weight="normal" textLength="22.8" lengthAdjust="spacingAndGlyphs" stroke="#333" stroke-width="0.15">JAK</text>
<text x="44.6" y="506.2" font-size="12.2" font-family='"Liberation Sans", sans-serif' fill="#1a1a1a" text-anchor="start" font-weight="normal" textLength="108.0" lengthAdjust="spacingAndGlyphs" stroke="#1a1a1a" stroke-width="0.35">2 mutation fraction</text>
<line x1="166.7" y1="504.2" x2="204.4" y2="504.2" stroke="#3f8f60" stroke-width="1.9"/>
<text x="211.5" y="509.1" font-size="13" font-family='"Liberation Sans", sans-serif' fill="#2a2a2a" text-anchor="start" font-weight="normal" textLength="50.7" lengthAdjust="spacingAndGlyphs" stroke="#2a2a2a" stroke-width="0.3">Negative</text>
<line x1="277.5" y1="504.4" x2="315.6" y2="504.4" stroke="#c9304f" stroke-width="1.9"/>
<text x="322.5" y="508.3" font-size="13.5" font-family='"Liberation Sans", sans-serif' fill="#1a1a1a" text-anchor="start" font-weight="normal" textLength="30.5" lengthAdjust="spacingAndGlyphs" stroke="#1a1a1a" stroke-width="0.35">&lt;0.60</text>
<line x1="388.1" y1="504.1" x2="426.1" y2="504.1" stroke="#4a5a8c" stroke-width="1.9"/>
<text x="433.8" y="508.3" font-size="13.5" font-family='"Liberation Sans", sans-serif' fill="#1a1a1a" text-anchor="start" font-weight="normal" textLength="38.9" lengthAdjust="spacingAndGlyphs" stroke="#1a1a1a" stroke-width="0.35">&gt;=0.60</text>
<text x="1.2" y="530.6" font-size="11.5" font-family='"Liberation Sans", sans-serif' fill="#1e1e1e" text-anchor="start" font-weight="normal" textLength="214.2" lengthAdjust="spacingAndGlyphs" stroke="#1e1e1e" stroke-width="0.22">Models of NRM were adjusted for age,</text>
<text x="1.2" y="546.8" font-size="11.5" font-family='"Liberation Sans", sans-serif' fill="#1e1e1e" text-anchor="start" font-weight="normal" textLength="219.5" lengthAdjust="spacingAndGlyphs" stroke="#1e1e1e" stroke-width="0.22">donor-recipient CMV serostatus match,</text>
<text x="1.2" y="563.1" font-size="11.5" font-family='"Liberation Sans", sans-serif' fill="#1e1e1e" text-anchor="start" font-weight="normal" textLength="206.5" lengthAdjust="spacingAndGlyphs" stroke="#1e1e1e" stroke-width="0.22">year of HCT, graft type, splenectomy,</text>
<text x="1.2" y="579.3" font-size="11.5" font-family='"Liberation Sans", sans-serif' fill="#1e1e1e" text-anchor="start" font-weight="normal" textLength="213.0" lengthAdjust="spacingAndGlyphs" stroke="#1e1e1e" stroke-width="0.22">donor type, and conditioning intensity</text>
<text x="253.0" y="530.6" font-size="11.5" font-family='"Liberation Sans", sans-serif' fill="#1e1e1e" text-anchor="start" font-weight="normal" textLength="206.2" lengthAdjust="spacingAndGlyphs" stroke="#1e1e1e" stroke-width="0.22">Models for relapse were adjusted for</text>
<text x="253.0" y="546.8" font-size="11.5" font-family='"Liberation Sans", sans-serif' fill="#1e1e1e" text-anchor="start" font-weight="normal" textLength="239.3" lengthAdjust="spacingAndGlyphs" stroke="#1e1e1e" stroke-width="0.22">splenectomy, conditioning intensity, DIPSS,</text>
<text x="253.0" y="563.2" font-size="11.5" font-family='"Liberation Sans", sans-serif' fill="#1e1e1e" text-anchor="start" font-weight="normal" textLength="263.9" lengthAdjust="spacingAndGlyphs" stroke="#1e1e1e" stroke-width="0.22">GvHD prophylaxis, and stratified on year of HCT</text>
</svg>
</body></html>
